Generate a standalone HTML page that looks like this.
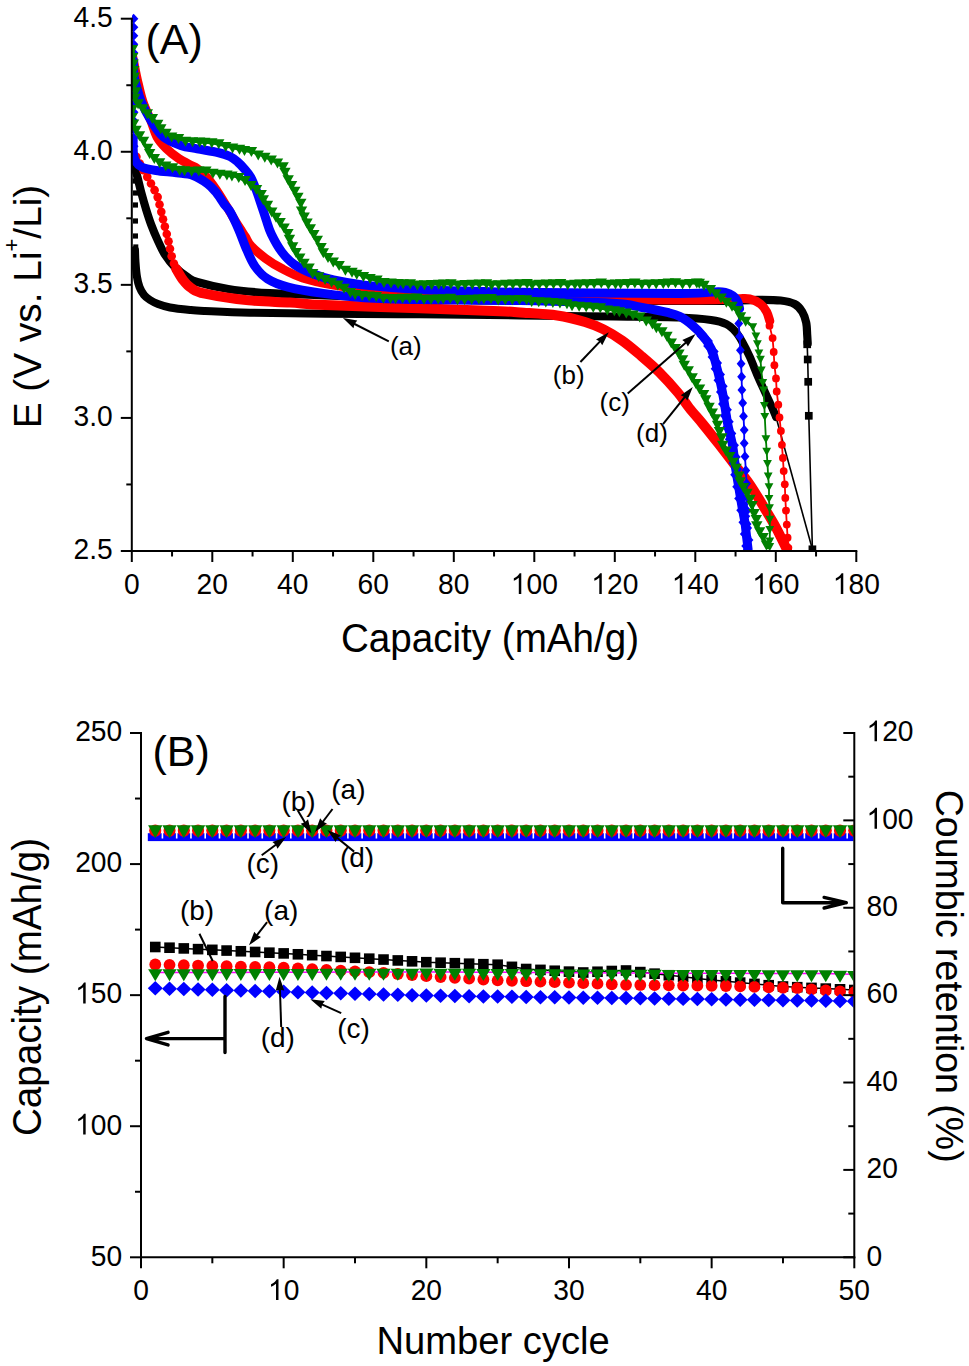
<!DOCTYPE html>
<html><head><meta charset="utf-8"><style>
html,body{margin:0;padding:0;background:#fff;}
svg{display:block;font-family:"Liberation Sans", sans-serif;}
</style></head><body>
<svg width="969" height="1366" viewBox="0 0 969 1366">
<rect width="969" height="1366" fill="#fff"/>
<defs><clipPath id="ctop"><rect x="132" y="0" width="740" height="550.5"/></clipPath><clipPath id="cbot"><rect x="142" y="700" width="711.5" height="556.5"/></clipPath></defs>
<g clip-path="url(#ctop)">
<path d="M133.50,163.00 C134.17,165.40 136.22,172.52 137.50,177.40 C138.78,182.28 139.75,186.92 141.20,192.30 C142.65,197.68 144.53,204.30 146.20,209.70 C147.87,215.10 149.33,219.72 151.20,224.70 C153.07,229.68 155.12,234.62 157.40,239.60 C159.68,244.58 162.00,250.03 164.90,254.60 C167.80,259.17 171.07,263.27 174.80,267.00 C178.53,270.73 183.57,274.50 187.30,277.00 C191.03,279.50 190.38,280.00 197.20,282.00 C204.02,284.00 216.15,287.13 228.20,289.00 C240.25,290.87 253.37,292.15 269.50,293.20 C285.63,294.25 299.92,294.33 325.00,295.30 C350.08,296.27 390.83,298.13 420.00,299.00 C449.17,299.87 456.67,300.17 500.00,300.50 C543.33,300.83 639.68,301.02 680.00,301.00 C720.32,300.98 729.00,300.60 741.90,300.40 C754.80,300.20 750.95,299.78 757.40,299.80 C763.85,299.82 774.40,299.80 780.60,300.50 C786.80,301.20 790.98,302.12 794.60,304.00 C798.22,305.88 800.37,308.70 802.30,311.80 C804.23,314.90 805.38,318.73 806.20,322.60 C807.02,326.47 806.95,331.52 807.20,335.00 C807.45,338.48 807.62,342.08 807.70,343.50" fill="none" stroke="#000" stroke-width="8.2" stroke-linejoin="round" stroke-linecap="round"/>
<path d="M135.00,250.00 C135.08,252.00 135.17,257.50 135.50,262.00 C135.83,266.50 136.33,272.83 137.00,277.00 C137.67,281.17 138.33,284.00 139.50,287.00 C140.67,290.00 142.25,292.83 144.00,295.00 C145.75,297.17 147.67,298.50 150.00,300.00 C152.33,301.50 154.67,302.75 158.00,304.00 C161.33,305.25 164.67,306.50 170.00,307.50 C175.33,308.50 184.17,309.42 190.00,310.00 C195.83,310.58 195.00,310.53 205.00,311.00 C215.00,311.47 230.00,312.35 250.00,312.80 C270.00,313.25 296.67,313.45 325.00,313.70 C353.33,313.95 387.50,314.00 420.00,314.30 C452.50,314.60 487.85,315.13 520.00,315.50 C552.15,315.87 586.23,316.17 612.90,316.50 C639.57,316.83 663.65,316.92 680.00,317.50 C696.35,318.08 703.27,318.88 711.00,320.00 C718.73,321.12 722.28,322.22 726.40,324.20 C730.52,326.18 733.12,329.07 735.70,331.90 C738.28,334.73 739.57,337.07 741.90,341.20 C744.23,345.33 747.12,351.02 749.70,356.70 C752.28,362.38 754.83,369.37 757.40,375.30 C759.97,381.23 762.52,386.63 765.10,392.30 C767.68,397.97 771.08,405.18 772.90,409.30 C774.72,413.42 775.48,415.72 776.00,417.00" fill="none" stroke="#000" stroke-width="8.0" stroke-linejoin="round" stroke-linecap="round"/>
<polyline points="807.70,343.50 807.20,344.30 807.70,359.50 808.20,381.80 808.80,415.80 812.40,549.30" fill="none" stroke="#000" stroke-width="1.6"/>
<rect x="803.35" y="340.45" width="7.70" height="7.70" fill="#000"/>
<rect x="803.85" y="355.65" width="7.70" height="7.70" fill="#000"/>
<rect x="804.35" y="377.95" width="7.70" height="7.70" fill="#000"/>
<rect x="804.95" y="411.95" width="7.70" height="7.70" fill="#000"/>
<rect x="808.55" y="545.45" width="7.70" height="7.70" fill="#000"/>
<rect x="132.50" y="178.40" width="5" height="5.2" fill="#000"/>
<rect x="133.00" y="190.40" width="5" height="5.2" fill="#000"/>
<rect x="133.00" y="202.40" width="5" height="5.2" fill="#000"/>
<rect x="133.00" y="218.40" width="5" height="5.2" fill="#000"/>
<rect x="133.00" y="233.40" width="5" height="5.2" fill="#000"/>
<rect x="133.30" y="244.40" width="5" height="5.2" fill="#000"/>
<line x1="776.00" y1="417.00" x2="812.40" y2="549.30" stroke="#000" stroke-width="1.6" />
<polyline points="133.00,150.00 135.30,154.50 141.50,166.90 149.80,181.30 156.80,194.80 159.90,206.00 163.60,221.60 168.00,239.00 171.70,256.40 176.20,268.90 182.80,279.60" fill="none" stroke="#ff0000" stroke-width="1.6"/>
<circle cx="133.00" cy="150.00" r="4.30" fill="#ff0000"/>
<circle cx="136.42" cy="156.79" r="4.30" fill="#ff0000"/>
<circle cx="139.78" cy="163.60" r="4.30" fill="#ff0000"/>
<circle cx="143.40" cy="170.28" r="4.30" fill="#ff0000"/>
<circle cx="147.25" cy="176.84" r="4.30" fill="#ff0000"/>
<circle cx="150.99" cy="183.45" r="4.30" fill="#ff0000"/>
<circle cx="154.61" cy="190.13" r="4.30" fill="#ff0000"/>
<circle cx="157.65" cy="197.09" r="4.30" fill="#ff0000"/>
<circle cx="159.52" cy="204.45" r="4.30" fill="#ff0000"/>
<circle cx="161.30" cy="211.84" r="4.30" fill="#ff0000"/>
<circle cx="163.03" cy="219.24" r="4.30" fill="#ff0000"/>
<circle cx="164.87" cy="226.62" r="4.30" fill="#ff0000"/>
<circle cx="166.77" cy="233.98" r="4.30" fill="#ff0000"/>
<circle cx="168.52" cy="241.37" r="4.30" fill="#ff0000"/>
<circle cx="170.00" cy="248.82" r="4.30" fill="#ff0000"/>
<circle cx="171.66" cy="256.24" r="4.30" fill="#ff0000"/>
<circle cx="173.92" cy="263.49" r="4.30" fill="#ff0000"/>
<circle cx="177.00" cy="270.44" r="4.30" fill="#ff0000"/>
<circle cx="181.01" cy="276.89" r="4.30" fill="#ff0000"/>
<path d="M176.20,268.90 C177.30,270.68 180.33,276.43 182.80,279.60 C185.27,282.77 187.30,285.55 191.00,287.90 C194.70,290.25 195.37,291.62 205.00,293.70 C214.63,295.78 234.62,298.93 248.80,300.40 C262.98,301.87 277.40,301.73 290.10,302.50 C302.80,303.27 303.35,304.05 325.00,305.00 C346.65,305.95 390.83,307.17 420.00,308.20 C449.17,309.23 483.33,310.48 500.00,311.20 C516.67,311.92 510.47,311.78 520.00,312.50 C529.53,313.22 546.37,313.92 557.20,315.50 C568.03,317.08 577.27,319.68 585.00,322.00 C592.73,324.32 597.40,326.30 603.60,329.40 C609.80,332.50 616.02,336.25 622.20,340.60 C628.38,344.95 634.52,350.23 640.70,355.50 C646.88,360.77 653.10,366.02 659.30,372.20 C665.50,378.38 672.90,386.63 677.90,392.60 C682.90,398.57 685.08,402.68 689.30,408.00 C693.52,413.32 698.30,418.50 703.20,424.50 C708.10,430.50 713.53,437.38 718.70,444.00 C723.87,450.62 729.03,457.48 734.20,464.20 C739.37,470.92 744.55,476.82 749.70,484.30 C754.85,491.78 760.72,501.88 765.10,509.10 C769.48,516.32 772.38,520.90 776.00,527.60 C779.62,534.30 785.00,545.68 786.80,549.30" fill="none" stroke="#ff0000" stroke-width="10" stroke-linejoin="round" stroke-linecap="round"/>
<path d="M132.50,56.00 C132.83,57.67 133.68,62.00 134.50,66.00 C135.32,70.00 135.98,74.00 137.40,80.00 C138.82,86.00 140.73,95.17 143.00,102.00 C145.27,108.83 148.67,115.17 151.00,121.00 C153.33,126.83 154.45,132.42 157.00,137.00 C159.55,141.58 162.68,144.92 166.30,148.50 C169.92,152.08 174.53,155.68 178.70,158.50 C182.87,161.32 188.35,163.82 191.30,165.40 C194.25,166.98 194.45,166.65 196.40,168.00 C198.35,169.35 200.73,171.33 203.00,173.50 C205.27,175.67 207.67,178.08 210.00,181.00 C212.33,183.92 214.67,187.50 217.00,191.00 C219.33,194.50 221.83,198.50 224.00,202.00 C226.17,205.50 228.17,208.92 230.00,212.00 C231.83,215.08 233.33,217.75 235.00,220.50 C236.67,223.25 238.25,225.75 240.00,228.50 C241.75,231.25 243.67,234.10 245.50,237.00 C247.33,239.90 247.68,242.35 251.00,245.90 C254.32,249.45 260.25,254.52 265.40,258.30 C270.55,262.08 275.70,265.33 281.90,268.60 C288.10,271.87 294.00,275.15 302.60,277.90 C311.20,280.65 323.18,283.22 333.50,285.10 C343.82,286.98 350.08,288.08 364.50,289.20 C378.92,290.32 394.08,290.75 420.00,291.80 C445.92,292.85 490.95,294.25 520.00,295.50 C549.05,296.75 564.30,298.55 594.30,299.30 C624.30,300.05 676.17,300.08 700.00,300.00 C723.83,299.92 729.02,298.97 737.30,298.80 C745.58,298.63 745.83,298.13 749.70,299.00 C753.57,299.87 757.67,301.87 760.50,304.00 C763.33,306.13 765.15,308.95 766.70,311.80 C768.25,314.65 769.28,319.55 769.80,321.10" fill="none" stroke="#ff0000" stroke-width="9" stroke-linejoin="round" stroke-linecap="round"/>
<polyline points="769.80,321.10 769.50,325.70 772.60,338.10 773.70,352.00 774.40,365.20 776.00,378.40 776.70,391.50 778.30,404.70 779.50,417.50 780.90,430.90 781.90,444.80 782.90,458.00 783.70,471.10 784.80,484.30 785.30,497.90 786.00,510.60 786.80,524.60 787.60,537.70 788.40,547.80" fill="none" stroke="#ff0000" stroke-width="1.8"/>
<circle cx="769.50" cy="325.70" r="3.90" fill="#ff0000"/>
<circle cx="772.60" cy="338.10" r="3.90" fill="#ff0000"/>
<circle cx="773.70" cy="352.00" r="3.90" fill="#ff0000"/>
<circle cx="774.40" cy="365.20" r="3.90" fill="#ff0000"/>
<circle cx="776.00" cy="378.40" r="3.90" fill="#ff0000"/>
<circle cx="776.70" cy="391.50" r="3.90" fill="#ff0000"/>
<circle cx="778.30" cy="404.70" r="3.90" fill="#ff0000"/>
<circle cx="779.50" cy="417.50" r="3.90" fill="#ff0000"/>
<circle cx="780.90" cy="430.90" r="3.90" fill="#ff0000"/>
<circle cx="781.90" cy="444.80" r="3.90" fill="#ff0000"/>
<circle cx="782.90" cy="458.00" r="3.90" fill="#ff0000"/>
<circle cx="783.70" cy="471.10" r="3.90" fill="#ff0000"/>
<circle cx="784.80" cy="484.30" r="3.90" fill="#ff0000"/>
<circle cx="785.30" cy="497.90" r="3.90" fill="#ff0000"/>
<circle cx="786.00" cy="510.60" r="3.90" fill="#ff0000"/>
<circle cx="786.80" cy="524.60" r="3.90" fill="#ff0000"/>
<circle cx="787.60" cy="537.70" r="3.90" fill="#ff0000"/>
<circle cx="788.40" cy="547.80" r="3.90" fill="#ff0000"/>
<path d="M133.20,140.00 C133.22,142.07 132.95,148.95 133.30,152.40 C133.65,155.85 133.93,158.27 135.30,160.70 C136.67,163.13 138.05,165.37 141.50,167.00 C144.95,168.63 150.15,169.53 156.00,170.50 C161.85,171.47 170.42,171.97 176.60,172.80 C182.78,173.63 187.93,173.67 193.10,175.50 C198.27,177.33 203.82,181.05 207.60,183.80 C211.38,186.55 213.05,188.63 215.80,192.00 C218.55,195.37 221.68,200.67 224.10,204.00 C226.52,207.33 227.88,207.77 230.30,212.00 C232.72,216.23 235.85,223.07 238.60,229.40 C241.35,235.73 244.05,243.82 246.80,250.00 C249.55,256.18 251.65,261.68 255.10,266.50 C258.55,271.32 262.00,275.45 267.50,278.90 C273.00,282.35 278.82,284.78 288.10,287.20 C297.38,289.62 310.47,291.63 323.20,293.40 C335.93,295.17 348.37,296.77 364.50,297.80 C380.63,298.83 394.08,299.13 420.00,299.60 C445.92,300.07 487.85,299.98 520.00,300.60 C552.15,301.22 592.78,302.20 612.90,303.30 C633.02,304.40 631.42,305.63 640.70,307.20 C649.98,308.77 662.05,311.15 668.60,312.70 C675.15,314.25 676.10,314.45 680.00,316.50 C683.90,318.55 688.17,321.75 692.00,325.00 C695.83,328.25 699.83,332.08 703.00,336.00 C706.17,339.92 708.90,344.02 711.00,348.50 C713.10,352.98 714.07,357.40 715.60,362.90 C717.13,368.40 718.92,375.83 720.20,381.50 C721.48,387.17 722.27,391.15 723.30,396.90 C724.33,402.65 725.62,411.23 726.40,416.00 C727.18,420.77 726.97,420.57 728.00,425.50 C729.03,430.43 731.32,438.38 732.60,445.60 C733.88,452.82 734.67,461.83 735.70,468.80 C736.73,475.77 737.77,481.20 738.80,487.40 C739.83,493.60 740.87,500.07 741.90,506.00 C742.93,511.93 744.22,517.85 745.00,523.00 C745.78,528.15 746.08,532.52 746.60,536.90 C747.12,541.28 747.85,547.23 748.10,549.30" fill="none" stroke="#0000ff" stroke-width="9" stroke-linejoin="round" stroke-linecap="round"/>
<path d="M701.80,330.25L707.05,336.00L701.80,341.75L696.55,336.00Z" fill="#0000ff"/>
<path d="M707.62,335.18L712.87,340.93L707.62,346.68L702.37,340.93Z" fill="#0000ff"/>
<path d="M708.46,340.23L713.71,345.98L708.46,351.73L703.21,345.98Z" fill="#0000ff"/>
<path d="M713.41,345.65L718.66,351.40L713.41,357.15L708.16,351.40Z" fill="#0000ff"/>
<path d="M712.83,351.37L718.08,357.12L712.83,362.87L707.58,357.12Z" fill="#0000ff"/>
<path d="M716.80,357.16L722.05,362.91L716.80,368.66L711.55,362.91Z" fill="#0000ff"/>
<path d="M715.94,362.96L721.19,368.71L715.94,374.46L710.69,368.71Z" fill="#0000ff"/>
<path d="M719.77,368.78L725.02,374.53L719.77,380.28L714.52,374.53Z" fill="#0000ff"/>
<path d="M718.74,374.62L723.99,380.37L718.74,386.12L713.49,380.37Z" fill="#0000ff"/>
<path d="M722.44,380.48L727.69,386.23L722.44,391.98L717.19,386.23Z" fill="#0000ff"/>
<path d="M721.22,386.36L726.47,392.11L721.22,397.86L715.97,392.11Z" fill="#0000ff"/>
<path d="M724.70,392.27L729.95,398.02L724.70,403.77L719.45,398.02Z" fill="#0000ff"/>
<path d="M723.28,398.18L728.53,403.93L723.28,409.68L718.03,403.93Z" fill="#0000ff"/>
<path d="M726.62,404.11L731.87,409.86L726.62,415.61L721.37,409.86Z" fill="#0000ff"/>
<path d="M725.17,410.04L730.42,415.79L725.17,421.54L719.92,415.79Z" fill="#0000ff"/>
<path d="M728.47,415.97L733.72,421.72L728.47,427.47L723.22,421.72Z" fill="#0000ff"/>
<path d="M727.27,421.84L732.52,427.59L727.27,433.34L722.02,427.59Z" fill="#0000ff"/>
<path d="M731.09,427.67L736.34,433.42L731.09,439.17L725.84,433.42Z" fill="#0000ff"/>
<path d="M730.09,433.51L735.34,439.26L730.09,445.01L724.84,439.26Z" fill="#0000ff"/>
<path d="M733.71,439.38L738.96,445.13L733.71,450.88L728.46,445.13Z" fill="#0000ff"/>
<path d="M732.25,445.31L737.50,451.06L732.25,456.81L727.00,451.06Z" fill="#0000ff"/>
<path d="M735.41,451.26L740.66,457.01L735.41,462.76L730.16,457.01Z" fill="#0000ff"/>
<path d="M733.73,457.22L738.98,462.97L733.73,468.72L728.48,462.97Z" fill="#0000ff"/>
<path d="M736.92,463.16L742.17,468.91L736.92,474.66L731.67,468.91Z" fill="#0000ff"/>
<path d="M735.45,469.09L740.70,474.84L735.45,480.59L730.20,474.84Z" fill="#0000ff"/>
<path d="M738.86,475.01L744.11,480.76L738.86,486.51L733.61,480.76Z" fill="#0000ff"/>
<path d="M737.48,480.92L742.73,486.67L737.48,492.42L732.23,486.67Z" fill="#0000ff"/>
<path d="M740.86,486.84L746.11,492.59L740.86,498.34L735.61,492.59Z" fill="#0000ff"/>
<path d="M739.43,492.76L744.68,498.51L739.43,504.26L734.18,498.51Z" fill="#0000ff"/>
<path d="M742.83,498.67L748.08,504.42L742.83,510.17L737.58,504.42Z" fill="#0000ff"/>
<path d="M741.49,504.58L746.74,510.33L741.49,516.08L736.24,510.33Z" fill="#0000ff"/>
<path d="M745.02,510.47L750.27,516.22L745.02,521.97L739.77,516.22Z" fill="#0000ff"/>
<path d="M743.66,516.38L748.91,522.13L743.66,527.88L738.41,522.13Z" fill="#0000ff"/>
<path d="M746.87,522.33L752.12,528.08L746.87,533.83L741.62,528.08Z" fill="#0000ff"/>
<path d="M745.09,528.29L750.34,534.04L745.09,539.79L739.84,534.04Z" fill="#0000ff"/>
<path d="M748.17,534.26L753.42,540.01L748.17,545.76L742.92,540.01Z" fill="#0000ff"/>
<path d="M746.49,540.21L751.74,545.96L746.49,551.71L741.24,545.96Z" fill="#0000ff"/>
<path d="M133.60,13.70L138.35,18.70L133.60,23.70L128.85,18.70Z" fill="#0000ff"/>
<path d="M133.60,22.20L138.35,27.20L133.60,32.20L128.85,27.20Z" fill="#0000ff"/>
<path d="M133.59,30.70L138.34,35.70L133.59,40.70L128.84,35.70Z" fill="#0000ff"/>
<path d="M133.59,39.20L138.34,44.20L133.59,49.20L128.84,44.20Z" fill="#0000ff"/>
<path d="M133.59,47.70L138.34,52.70L133.59,57.70L128.84,52.70Z" fill="#0000ff"/>
<path d="M133.60,56.20L138.35,61.20L133.60,66.20L128.85,61.20Z" fill="#0000ff"/>
<path d="M133.62,64.70L138.37,69.70L133.62,74.70L128.87,69.70Z" fill="#0000ff"/>
<path d="M133.64,73.20L138.39,78.20L133.64,83.20L128.89,78.20Z" fill="#0000ff"/>
<path d="M133.66,81.70L138.41,86.70L133.66,91.70L128.91,86.70Z" fill="#0000ff"/>
<path d="M133.69,90.20L138.44,95.20L133.69,100.20L128.94,95.20Z" fill="#0000ff"/>
<path d="M133.71,98.70L138.46,103.70L133.71,108.70L128.96,103.70Z" fill="#0000ff"/>
<path d="M133.73,107.20L138.48,112.20L133.73,117.20L128.98,112.20Z" fill="#0000ff"/>
<path d="M133.75,115.70L138.50,120.70L133.75,125.70L129.00,120.70Z" fill="#0000ff"/>
<path d="M133.77,124.20L138.52,129.20L133.77,134.20L129.02,129.20Z" fill="#0000ff"/>
<path d="M133.79,132.70L138.54,137.70L133.79,142.70L129.04,137.70Z" fill="#0000ff"/>
<path d="M133.83,141.20L138.58,146.20L133.83,151.20L129.08,146.20Z" fill="#0000ff"/>
<path d="M133.30,60.00 C133.42,62.50 133.38,70.33 134.00,75.00 C134.62,79.67 135.80,83.58 137.00,88.00 C138.20,92.42 139.03,96.33 141.20,101.50 C143.37,106.67 146.37,113.15 150.00,119.00 C153.63,124.85 157.88,132.20 163.00,136.60 C168.12,141.00 175.00,143.37 180.70,145.40 C186.40,147.43 191.00,147.62 197.20,148.80 C203.40,149.98 212.43,151.22 217.90,152.50 C223.37,153.78 226.70,154.92 230.00,156.50 C233.30,158.08 235.37,160.00 237.70,162.00 C240.03,164.00 241.85,166.00 244.00,168.50 C246.15,171.00 248.63,173.58 250.60,177.00 C252.57,180.42 254.07,184.50 255.80,189.00 C257.53,193.50 259.28,198.92 261.00,204.00 C262.72,209.08 264.38,214.50 266.10,219.50 C267.82,224.50 268.67,228.57 271.30,234.00 C273.93,239.43 278.07,247.02 281.90,252.10 C285.73,257.18 289.13,260.88 294.30,264.50 C299.47,268.12 306.37,271.22 312.90,273.80 C319.43,276.38 324.90,278.12 333.50,280.00 C342.10,281.88 350.08,283.52 364.50,285.10 C378.92,286.68 394.08,288.30 420.00,289.50 C445.92,290.70 476.67,291.63 520.00,292.30 C563.33,292.97 646.88,293.60 680.00,293.50 C713.12,293.40 710.18,291.48 718.70,291.70 C727.22,291.92 728.00,293.25 731.10,294.80 C734.20,296.35 735.88,298.68 737.30,301.00 C738.72,303.32 739.22,307.42 739.60,308.70" fill="none" stroke="#0000ff" stroke-width="9" stroke-linejoin="round" stroke-linecap="round"/>
<polyline points="739.60,308.70 738.80,323.40 739.60,336.60 740.40,350.20 741.10,363.70 741.60,376.80 741.90,390.00 742.70,403.10 743.50,416.30 744.20,430.10 744.20,443.30 745.00,456.40 745.80,470.40 746.60,483.50 746.80,497.00 747.00,510.50 747.10,524.00 747.20,537.00 747.30,549.30" fill="none" stroke="#0000ff" stroke-width="1.8"/>
<path d="M738.80,318.15L743.20,323.40L738.80,328.65L734.40,323.40Z" fill="#0000ff"/>
<path d="M739.60,331.35L744.00,336.60L739.60,341.85L735.20,336.60Z" fill="#0000ff"/>
<path d="M740.40,344.95L744.80,350.20L740.40,355.45L736.00,350.20Z" fill="#0000ff"/>
<path d="M741.10,358.45L745.50,363.70L741.10,368.95L736.70,363.70Z" fill="#0000ff"/>
<path d="M741.60,371.55L746.00,376.80L741.60,382.05L737.20,376.80Z" fill="#0000ff"/>
<path d="M741.90,384.75L746.30,390.00L741.90,395.25L737.50,390.00Z" fill="#0000ff"/>
<path d="M742.70,397.85L747.10,403.10L742.70,408.35L738.30,403.10Z" fill="#0000ff"/>
<path d="M743.50,411.05L747.90,416.30L743.50,421.55L739.10,416.30Z" fill="#0000ff"/>
<path d="M744.20,424.85L748.60,430.10L744.20,435.35L739.80,430.10Z" fill="#0000ff"/>
<path d="M744.20,438.05L748.60,443.30L744.20,448.55L739.80,443.30Z" fill="#0000ff"/>
<path d="M745.00,451.15L749.40,456.40L745.00,461.65L740.60,456.40Z" fill="#0000ff"/>
<path d="M745.80,465.15L750.20,470.40L745.80,475.65L741.40,470.40Z" fill="#0000ff"/>
<path d="M746.60,478.25L751.00,483.50L746.60,488.75L742.20,483.50Z" fill="#0000ff"/>
<path d="M746.80,491.75L751.20,497.00L746.80,502.25L742.40,497.00Z" fill="#0000ff"/>
<path d="M747.00,505.25L751.40,510.50L747.00,515.75L742.60,510.50Z" fill="#0000ff"/>
<path d="M747.10,518.75L751.50,524.00L747.10,529.25L742.70,524.00Z" fill="#0000ff"/>
<path d="M747.20,531.75L751.60,537.00L747.20,542.25L742.80,537.00Z" fill="#0000ff"/>
<path d="M747.30,544.05L751.70,549.30L747.30,554.55L742.90,549.30Z" fill="#0000ff"/>
<path d="M133.30,50.00 C133.33,52.00 133.30,56.00 133.50,62.00 C133.70,68.00 134.08,79.83 134.50,86.00 C134.92,92.17 134.88,95.58 136.00,99.00 C137.12,102.42 139.03,103.67 141.20,106.50 C143.37,109.33 146.53,113.33 149.00,116.00 C151.47,118.67 153.07,119.67 156.00,122.50 C158.93,125.33 163.93,130.58 166.60,133.00 C169.27,135.42 168.62,135.75 172.00,137.00 C175.38,138.25 180.90,139.58 186.90,140.50 C192.90,141.42 202.83,141.92 208.00,142.50 C213.17,143.08 212.82,142.92 217.90,144.00 C222.98,145.08 232.32,147.53 238.50,149.00 C244.68,150.47 249.83,151.17 255.00,152.80 C260.17,154.43 265.02,156.50 269.50,158.80 C273.98,161.10 278.80,163.43 281.90,166.60 C285.00,169.77 286.03,173.87 288.10,177.80 C290.17,181.73 292.23,185.73 294.30,190.20 C296.37,194.67 298.43,199.45 300.50,204.60 C302.57,209.75 304.63,216.28 306.70,221.10 C308.77,225.92 310.50,229.02 312.90,233.50 C315.30,237.98 318.00,243.53 321.10,248.00 C324.20,252.47 327.72,256.87 331.50,260.30 C335.28,263.73 339.00,266.18 343.80,268.60 C348.60,271.02 355.13,272.90 360.30,274.80 C365.47,276.70 368.95,278.63 374.80,280.00 C380.65,281.37 387.87,282.32 395.40,283.00 C402.93,283.68 399.23,283.95 420.00,284.10 C440.77,284.25 476.67,284.05 520.00,283.90 C563.33,283.75 650.75,283.42 680.00,283.20 C709.25,282.98 690.33,281.70 695.50,282.60 C700.67,283.50 707.13,286.45 711.00,288.60 C714.87,290.75 716.13,293.18 718.70,295.50 C721.27,297.82 723.82,300.30 726.40,302.50 C728.98,304.70 731.62,306.38 734.20,308.70 C736.78,311.02 739.32,313.82 741.90,316.40 C744.48,318.98 748.40,322.90 749.70,324.20" fill="none" stroke="#008000" stroke-width="3" stroke-linejoin="round" stroke-linecap="round"/>
<path d="M126.60,45.00L138.00,45.00L132.30,55.00Z" fill="#008000"/>
<path d="M126.98,53.11L138.38,53.11L132.68,63.11Z" fill="#008000"/>
<path d="M127.47,59.62L138.87,59.62L133.17,69.62Z" fill="#008000"/>
<path d="M128.01,66.12L139.41,66.12L133.71,76.12Z" fill="#008000"/>
<path d="M128.58,72.62L139.98,72.62L134.28,82.62Z" fill="#008000"/>
<path d="M129.21,79.13L140.61,79.13L134.91,89.13Z" fill="#008000"/>
<path d="M129.94,87.22L141.34,87.22L135.64,97.22Z" fill="#008000"/>
<path d="M129.04,93.68L140.44,93.68L134.74,103.68Z" fill="#008000"/>
<path d="M132.41,99.37L143.81,99.37L138.11,109.37Z" fill="#008000"/>
<path d="M137.02,104.34L148.42,104.34L142.72,114.34Z" fill="#008000"/>
<path d="M141.63,109.32L153.03,109.32L147.33,119.32Z" fill="#008000"/>
<path d="M146.67,113.89L158.07,113.89L152.37,123.89Z" fill="#008000"/>
<path d="M152.00,119.79L163.40,119.79L157.70,129.79Z" fill="#008000"/>
<path d="M155.10,124.32L166.50,124.32L160.80,134.32Z" fill="#008000"/>
<path d="M160.27,128.78L171.67,128.78L165.97,138.78Z" fill="#008000"/>
<path d="M165.97,132.46L177.37,132.46L171.67,142.46Z" fill="#008000"/>
<path d="M172.81,134.05L184.21,134.05L178.51,144.05Z" fill="#008000"/>
<path d="M179.79,136.69L191.19,136.69L185.49,146.69Z" fill="#008000"/>
<path d="M186.84,137.28L198.24,137.28L192.54,147.28Z" fill="#008000"/>
<path d="M193.92,137.58L205.32,137.58L199.62,147.58Z" fill="#008000"/>
<path d="M199.00,137.84L210.40,137.84L204.70,147.84Z" fill="#008000"/>
<path d="M206.07,138.27L217.47,138.27L211.77,148.27Z" fill="#008000"/>
<path d="M213.06,139.24L224.46,139.24L218.76,149.24Z" fill="#008000"/>
<path d="M219.98,142.12L231.38,142.12L225.68,152.12Z" fill="#008000"/>
<path d="M226.89,143.48L238.29,143.48L232.59,153.48Z" fill="#008000"/>
<path d="M233.80,144.80L245.20,144.80L239.50,154.80Z" fill="#008000"/>
<path d="M238.76,145.93L250.16,145.93L244.46,155.93Z" fill="#008000"/>
<path d="M245.70,147.12L257.10,147.12L251.40,157.12Z" fill="#008000"/>
<path d="M252.49,150.47L263.89,150.47L258.19,160.47Z" fill="#008000"/>
<path d="M259.10,152.74L270.50,152.74L264.80,162.74Z" fill="#008000"/>
<path d="M265.52,155.43L276.92,155.43L271.22,165.43Z" fill="#008000"/>
<path d="M271.79,158.40L283.19,158.40L277.49,168.40Z" fill="#008000"/>
<path d="M277.42,162.30L288.82,162.30L283.12,172.30Z" fill="#008000"/>
<path d="M279.25,167.80L290.65,167.80L284.95,177.80Z" fill="#008000"/>
<path d="M282.46,175.25L293.86,175.25L288.16,185.25Z" fill="#008000"/>
<path d="M285.87,181.01L297.27,181.01L291.57,191.01Z" fill="#008000"/>
<path d="M289.10,186.86L300.50,186.86L294.80,196.86Z" fill="#008000"/>
<path d="M292.17,192.78L303.57,192.78L297.87,202.78Z" fill="#008000"/>
<path d="M295.10,198.77L306.50,198.77L300.80,208.77Z" fill="#008000"/>
<path d="M295.82,206.43L307.22,206.43L301.52,216.43Z" fill="#008000"/>
<path d="M298.44,212.53L309.84,212.53L304.14,222.53Z" fill="#008000"/>
<path d="M301.31,218.54L312.71,218.54L307.01,228.54Z" fill="#008000"/>
<path d="M304.60,224.36L316.00,224.36L310.30,234.36Z" fill="#008000"/>
<path d="M308.11,230.07L319.51,230.07L313.81,240.07Z" fill="#008000"/>
<path d="M311.59,235.79L322.99,235.79L317.29,245.79Z" fill="#008000"/>
<path d="M315.34,242.96L326.74,242.96L321.04,252.96Z" fill="#008000"/>
<path d="M317.61,248.20L329.01,248.20L323.31,258.20Z" fill="#008000"/>
<path d="M322.30,253.10L333.70,253.10L328.00,263.10Z" fill="#008000"/>
<path d="M327.56,257.46L338.96,257.46L333.26,267.46Z" fill="#008000"/>
<path d="M333.41,261.11L344.81,261.11L339.11,271.11Z" fill="#008000"/>
<path d="M339.70,265.64L351.10,265.64L345.40,275.64Z" fill="#008000"/>
<path d="M346.33,267.85L357.73,267.85L352.03,277.85Z" fill="#008000"/>
<path d="M351.07,269.77L362.47,269.77L356.77,279.77Z" fill="#008000"/>
<path d="M357.73,271.89L369.13,271.89L363.43,281.89Z" fill="#008000"/>
<path d="M364.38,274.06L375.78,274.06L370.08,284.06Z" fill="#008000"/>
<path d="M371.26,275.49L382.66,275.49L376.96,285.49Z" fill="#008000"/>
<path d="M378.27,277.96L389.67,277.96L383.97,287.96Z" fill="#008000"/>
<path d="M385.32,278.52L396.72,278.52L391.02,288.52Z" fill="#008000"/>
<path d="M392.39,278.91L403.79,278.91L398.09,288.91Z" fill="#008000"/>
<path d="M397.47,279.26L408.87,279.26L403.17,289.26Z" fill="#008000"/>
<path d="M404.57,279.15L415.97,279.15L410.27,289.15Z" fill="#008000"/>
<path d="M411.68,280.53L423.08,280.53L417.38,290.53Z" fill="#008000"/>
<path d="M418.79,280.29L430.19,280.29L424.49,290.29Z" fill="#008000"/>
<path d="M425.90,280.02L437.30,280.02L431.60,290.02Z" fill="#008000"/>
<path d="M433.00,279.73L444.40,279.73L438.70,289.73Z" fill="#008000"/>
<path d="M438.11,279.44L449.51,279.44L443.81,289.44Z" fill="#008000"/>
<path d="M445.22,279.14L456.62,279.14L450.92,289.14Z" fill="#008000"/>
<path d="M452.33,280.43L463.73,280.43L458.03,290.43Z" fill="#008000"/>
<path d="M459.43,280.12L470.83,280.12L465.13,290.12Z" fill="#008000"/>
<path d="M466.54,279.81L477.94,279.81L472.24,289.81Z" fill="#008000"/>
<path d="M473.65,279.49L485.05,279.49L479.35,289.49Z" fill="#008000"/>
<path d="M480.76,279.17L492.16,279.17L486.46,289.17Z" fill="#008000"/>
<path d="M485.87,280.46L497.27,280.46L491.57,290.46Z" fill="#008000"/>
<path d="M492.97,280.14L504.37,280.14L498.67,290.14Z" fill="#008000"/>
<path d="M500.08,279.82L511.48,279.82L505.78,289.82Z" fill="#008000"/>
<path d="M507.19,279.51L518.59,279.51L512.89,289.51Z" fill="#008000"/>
<path d="M514.30,279.19L525.70,279.19L520.00,289.19Z" fill="#008000"/>
<path d="M521.40,278.88L532.80,278.88L527.10,288.88Z" fill="#008000"/>
<path d="M526.51,280.16L537.91,280.16L532.21,290.16Z" fill="#008000"/>
<path d="M533.62,279.85L545.02,279.85L539.32,289.85Z" fill="#008000"/>
<path d="M540.73,279.53L552.13,279.53L546.43,289.53Z" fill="#008000"/>
<path d="M547.83,279.21L559.23,279.21L553.53,289.21Z" fill="#008000"/>
<path d="M554.94,278.90L566.34,278.90L560.64,288.90Z" fill="#008000"/>
<path d="M562.05,280.18L573.45,280.18L567.75,290.18Z" fill="#008000"/>
<path d="M569.16,279.86L580.56,279.86L574.86,289.86Z" fill="#008000"/>
<path d="M574.26,279.55L585.66,279.55L579.96,289.55Z" fill="#008000"/>
<path d="M581.37,279.23L592.77,279.23L587.07,289.23Z" fill="#008000"/>
<path d="M588.48,278.91L599.88,278.91L594.18,288.91Z" fill="#008000"/>
<path d="M595.59,278.59L606.99,278.59L601.29,288.59Z" fill="#008000"/>
<path d="M602.70,279.87L614.10,279.87L608.40,289.87Z" fill="#008000"/>
<path d="M609.80,279.55L621.20,279.55L615.50,289.55Z" fill="#008000"/>
<path d="M614.91,279.23L626.31,279.23L620.61,289.23Z" fill="#008000"/>
<path d="M622.02,278.91L633.42,278.91L627.72,288.91Z" fill="#008000"/>
<path d="M629.13,278.59L640.53,278.59L634.83,288.59Z" fill="#008000"/>
<path d="M636.23,279.87L647.63,279.87L641.93,289.87Z" fill="#008000"/>
<path d="M643.34,279.54L654.74,279.54L649.04,289.54Z" fill="#008000"/>
<path d="M650.45,279.22L661.85,279.22L656.15,289.22Z" fill="#008000"/>
<path d="M657.56,278.89L668.96,278.89L663.26,288.89Z" fill="#008000"/>
<path d="M662.66,278.56L674.06,278.56L668.36,288.56Z" fill="#008000"/>
<path d="M669.77,278.23L681.17,278.23L675.47,288.23Z" fill="#008000"/>
<path d="M676.88,279.48L688.28,279.48L682.58,289.48Z" fill="#008000"/>
<path d="M683.99,279.07L695.39,279.07L689.69,289.07Z" fill="#008000"/>
<path d="M691.08,278.39L702.48,278.39L696.78,288.39Z" fill="#008000"/>
<path d="M693.55,278.76L704.95,278.76L699.25,288.76Z" fill="#008000"/>
<path d="M698.25,280.79L709.65,280.79L703.95,290.79Z" fill="#008000"/>
<path d="M704.66,285.09L716.06,285.09L710.36,295.09Z" fill="#008000"/>
<path d="M710.16,289.13L721.56,289.13L715.86,299.13Z" fill="#008000"/>
<path d="M715.33,293.59L726.73,293.59L721.03,303.59Z" fill="#008000"/>
<path d="M720.68,297.86L732.08,297.86L726.38,307.86Z" fill="#008000"/>
<path d="M726.34,301.76L737.74,301.76L732.04,311.76Z" fill="#008000"/>
<path d="M731.74,305.97L743.14,305.97L737.44,315.97Z" fill="#008000"/>
<path d="M734.79,312.15L746.19,312.15L740.49,322.15Z" fill="#008000"/>
<path d="M739.91,316.67L751.31,316.67L745.61,326.67Z" fill="#008000"/>
<path d="M133.30,110.00 C133.25,111.50 132.42,115.42 133.00,119.00 C133.58,122.58 134.70,127.10 136.80,131.50 C138.90,135.90 142.68,141.05 145.60,145.40 C148.52,149.75 150.85,154.08 154.30,157.60 C157.75,161.12 160.87,164.35 166.30,166.50 C171.73,168.65 180.02,169.67 186.90,170.50 C193.78,171.33 202.08,170.97 207.60,171.50 C213.12,172.03 215.18,172.82 220.00,173.70 C224.82,174.58 232.03,175.43 236.50,176.80 C240.97,178.17 243.35,179.67 246.80,181.90 C250.25,184.13 253.75,186.42 257.20,190.20 C260.65,193.98 264.07,199.78 267.50,204.60 C270.93,209.42 274.37,213.93 277.80,219.10 C281.23,224.27 285.00,230.10 288.10,235.60 C291.20,241.10 293.65,247.28 296.40,252.10 C299.15,256.92 301.17,260.72 304.60,264.50 C308.03,268.28 312.18,271.72 317.00,274.80 C321.82,277.88 327.30,279.90 333.50,283.00 C339.70,286.10 345.60,290.98 354.20,293.40 C362.80,295.82 374.13,296.65 385.10,297.50 C396.07,298.35 397.52,298.13 420.00,298.50 C442.48,298.87 494.05,298.57 520.00,299.70 C545.95,300.83 560.22,303.58 575.70,305.30 C591.18,307.02 603.60,308.47 612.90,310.00 C622.20,311.53 625.32,312.42 631.50,314.50 C637.68,316.58 644.43,319.25 650.00,322.50 C655.57,325.75 660.87,330.00 664.90,334.00 C668.93,338.00 671.10,341.68 674.20,346.50 C677.30,351.32 680.40,357.70 683.50,362.90 C686.60,368.10 690.05,373.15 692.80,377.70 C695.55,382.25 697.48,386.15 700.00,390.20 C702.52,394.25 706.07,398.82 707.90,402.00 C709.73,405.18 709.72,406.53 711.00,409.30 C712.28,412.07 714.07,414.10 715.60,418.60 C717.13,423.10 718.40,431.03 720.20,436.30 C722.00,441.57 724.33,446.07 726.40,450.20 C728.47,454.33 730.53,456.70 732.60,461.10 C734.67,465.50 736.73,471.97 738.80,476.60 C740.87,481.23 743.18,485.30 745.00,488.90 C746.82,492.50 748.15,493.80 749.70,498.20 C751.25,502.60 752.75,510.13 754.30,515.30 C755.85,520.47 757.45,525.33 759.00,529.20 C760.55,533.07 762.07,535.40 763.60,538.50 C765.13,541.60 767.43,546.25 768.20,547.80" fill="none" stroke="#008000" stroke-width="3" stroke-linejoin="round" stroke-linecap="round"/>
<path d="M126.60,105.00L138.00,105.00L132.30,115.00Z" fill="#008000"/>
<path d="M126.41,113.08L137.81,113.08L132.11,123.08Z" fill="#008000"/>
<path d="M127.85,119.49L139.25,119.49L133.55,129.49Z" fill="#008000"/>
<path d="M130.31,125.64L141.71,125.64L136.01,135.64Z" fill="#008000"/>
<path d="M133.79,131.35L145.19,131.35L139.49,141.35Z" fill="#008000"/>
<path d="M137.84,136.74L149.24,136.74L143.54,146.74Z" fill="#008000"/>
<path d="M141.95,143.69L153.35,143.69L147.65,153.69Z" fill="#008000"/>
<path d="M143.97,149.09L155.37,149.09L149.67,159.09Z" fill="#008000"/>
<path d="M148.61,154.03L160.01,154.03L154.31,164.03Z" fill="#008000"/>
<path d="M153.90,158.36L165.30,158.36L159.60,168.36Z" fill="#008000"/>
<path d="M160.04,161.52L171.44,161.52L165.74,171.52Z" fill="#008000"/>
<path d="M166.84,163.22L178.24,163.22L172.54,173.22Z" fill="#008000"/>
<path d="M173.84,165.75L185.24,165.75L179.54,175.75Z" fill="#008000"/>
<path d="M178.88,166.36L190.28,166.36L184.58,176.36Z" fill="#008000"/>
<path d="M185.96,166.66L197.36,166.66L191.66,176.66Z" fill="#008000"/>
<path d="M193.07,166.58L204.47,166.58L198.77,176.58Z" fill="#008000"/>
<path d="M200.17,166.52L211.57,166.52L205.87,176.52Z" fill="#008000"/>
<path d="M207.22,168.66L218.62,168.66L212.92,178.66Z" fill="#008000"/>
<path d="M214.19,169.74L225.59,169.74L219.89,179.74Z" fill="#008000"/>
<path d="M221.21,170.57L232.61,170.57L226.91,180.57Z" fill="#008000"/>
<path d="M226.21,171.45L237.61,171.45L231.91,181.45Z" fill="#008000"/>
<path d="M233.04,173.06L244.44,173.06L238.74,183.06Z" fill="#008000"/>
<path d="M239.35,175.93L250.75,175.93L245.05,185.93Z" fill="#008000"/>
<path d="M245.32,181.00L256.72,181.00L251.02,191.00Z" fill="#008000"/>
<path d="M250.82,185.10L262.22,185.10L256.52,195.10Z" fill="#008000"/>
<path d="M255.46,190.04L266.86,190.04L261.16,200.04Z" fill="#008000"/>
<path d="M257.61,195.36L269.01,195.36L263.31,205.36Z" fill="#008000"/>
<path d="M261.77,200.67L273.17,200.67L267.47,210.67Z" fill="#008000"/>
<path d="M266.07,207.48L277.47,207.48L271.77,217.48Z" fill="#008000"/>
<path d="M270.31,212.74L281.71,212.74L276.01,222.74Z" fill="#008000"/>
<path d="M274.39,218.10L285.79,218.10L280.09,228.10Z" fill="#008000"/>
<path d="M278.37,223.54L289.77,223.54L284.07,233.54Z" fill="#008000"/>
<path d="M282.20,229.06L293.60,229.06L287.90,239.06Z" fill="#008000"/>
<path d="M283.74,234.75L295.14,234.75L289.44,244.75Z" fill="#008000"/>
<path d="M286.99,242.19L298.39,242.19L292.69,252.19Z" fill="#008000"/>
<path d="M290.38,247.96L301.78,247.96L296.08,257.96Z" fill="#008000"/>
<path d="M294.09,253.56L305.49,253.56L299.79,263.56Z" fill="#008000"/>
<path d="M298.31,258.82L309.71,258.82L304.01,268.82Z" fill="#008000"/>
<path d="M303.36,263.40L314.76,263.40L309.06,273.40Z" fill="#008000"/>
<path d="M306.95,268.98L318.35,268.98L312.65,278.98Z" fill="#008000"/>
<path d="M312.97,272.37L324.37,272.37L318.67,282.37Z" fill="#008000"/>
<path d="M319.37,275.10L330.77,275.10L325.07,285.10Z" fill="#008000"/>
<path d="M325.85,277.67L337.25,277.67L331.55,287.67Z" fill="#008000"/>
<path d="M332.15,280.58L343.55,280.58L337.85,290.58Z" fill="#008000"/>
<path d="M338.31,283.75L349.71,283.75L344.01,293.75Z" fill="#008000"/>
<path d="M344.71,288.08L356.11,288.08L350.41,298.08Z" fill="#008000"/>
<path d="M349.47,289.89L360.87,289.89L355.17,299.89Z" fill="#008000"/>
<path d="M356.45,290.93L367.85,290.93L362.15,300.93Z" fill="#008000"/>
<path d="M363.49,291.55L374.89,291.55L369.19,301.55Z" fill="#008000"/>
<path d="M370.57,291.93L381.97,291.93L376.27,301.93Z" fill="#008000"/>
<path d="M377.65,293.79L389.05,293.79L383.35,303.79Z" fill="#008000"/>
<path d="M384.74,294.00L396.14,294.00L390.44,304.00Z" fill="#008000"/>
<path d="M389.84,294.01L401.24,294.01L395.54,304.01Z" fill="#008000"/>
<path d="M396.95,293.85L408.35,293.85L402.65,303.85Z" fill="#008000"/>
<path d="M404.05,293.65L415.45,293.65L409.75,303.65Z" fill="#008000"/>
<path d="M411.16,293.45L422.56,293.45L416.86,303.45Z" fill="#008000"/>
<path d="M418.27,294.86L429.67,294.86L423.97,304.86Z" fill="#008000"/>
<path d="M425.38,294.63L436.78,294.63L431.08,304.63Z" fill="#008000"/>
<path d="M432.48,294.39L443.88,294.39L438.18,304.39Z" fill="#008000"/>
<path d="M437.59,294.13L448.99,294.13L443.29,304.13Z" fill="#008000"/>
<path d="M444.70,293.87L456.10,293.87L450.40,303.87Z" fill="#008000"/>
<path d="M451.81,295.21L463.21,295.21L457.51,305.21Z" fill="#008000"/>
<path d="M458.91,294.95L470.31,294.95L464.61,304.95Z" fill="#008000"/>
<path d="M466.02,294.70L477.42,294.70L471.72,304.70Z" fill="#008000"/>
<path d="M473.13,294.46L484.53,294.46L478.83,304.46Z" fill="#008000"/>
<path d="M478.24,294.23L489.64,294.23L483.94,304.23Z" fill="#008000"/>
<path d="M485.34,294.02L496.74,294.02L491.04,304.02Z" fill="#008000"/>
<path d="M492.45,295.43L503.85,295.43L498.15,305.43Z" fill="#008000"/>
<path d="M499.56,295.27L510.96,295.27L505.26,305.27Z" fill="#008000"/>
<path d="M506.66,295.15L518.06,295.15L512.36,305.15Z" fill="#008000"/>
<path d="M513.77,295.10L525.17,295.10L519.47,305.10Z" fill="#008000"/>
<path d="M520.87,295.13L532.27,295.13L526.57,305.13Z" fill="#008000"/>
<path d="M525.96,296.88L537.36,296.88L531.66,306.88Z" fill="#008000"/>
<path d="M533.04,297.14L544.44,297.14L538.74,307.14Z" fill="#008000"/>
<path d="M540.12,297.51L551.52,297.51L545.82,307.51Z" fill="#008000"/>
<path d="M547.18,297.99L558.58,297.99L552.88,307.99Z" fill="#008000"/>
<path d="M554.24,298.55L565.64,298.55L559.94,308.55Z" fill="#008000"/>
<path d="M561.29,299.15L572.69,299.15L566.99,309.15Z" fill="#008000"/>
<path d="M566.34,301.30L577.74,301.30L572.04,311.30Z" fill="#008000"/>
<path d="M573.41,301.77L584.81,301.77L579.11,311.77Z" fill="#008000"/>
<path d="M580.47,302.25L591.87,302.25L586.17,312.25Z" fill="#008000"/>
<path d="M587.53,302.75L598.93,302.75L593.23,312.75Z" fill="#008000"/>
<path d="M594.59,303.30L605.99,303.30L600.29,313.30Z" fill="#008000"/>
<path d="M601.63,305.52L613.03,305.52L607.33,315.52Z" fill="#008000"/>
<path d="M608.66,306.27L620.06,306.27L614.36,316.27Z" fill="#008000"/>
<path d="M613.66,307.20L625.06,307.20L619.36,317.20Z" fill="#008000"/>
<path d="M620.56,308.57L631.96,308.57L626.26,318.57Z" fill="#008000"/>
<path d="M627.33,310.40L638.73,310.40L633.03,320.40Z" fill="#008000"/>
<path d="M634.00,312.50L645.40,312.50L639.70,322.50Z" fill="#008000"/>
<path d="M640.51,316.58L651.91,316.58L646.21,326.58Z" fill="#008000"/>
<path d="M646.76,319.59L658.16,319.59L652.46,329.59Z" fill="#008000"/>
<path d="M650.65,323.18L662.05,323.18L656.35,333.18Z" fill="#008000"/>
<path d="M656.19,327.24L667.59,327.24L661.89,337.24Z" fill="#008000"/>
<path d="M661.26,331.79L672.66,331.79L666.96,341.79Z" fill="#008000"/>
<path d="M665.60,338.57L677.00,338.57L671.30,348.57Z" fill="#008000"/>
<path d="M669.57,344.01L680.97,344.01L675.27,354.01Z" fill="#008000"/>
<path d="M673.25,349.62L684.65,349.62L678.95,359.62Z" fill="#008000"/>
<path d="M676.82,355.30L688.22,355.30L682.52,365.30Z" fill="#008000"/>
<path d="M678.58,360.86L689.98,360.86L684.28,370.86Z" fill="#008000"/>
<path d="M682.53,366.31L693.93,366.31L688.23,376.31Z" fill="#008000"/>
<path d="M686.48,373.37L697.88,373.37L692.18,383.37Z" fill="#008000"/>
<path d="M690.20,378.96L701.60,378.96L695.90,388.96Z" fill="#008000"/>
<path d="M693.86,384.58L705.26,384.58L699.56,394.58Z" fill="#008000"/>
<path d="M697.89,389.98L709.29,389.98L703.59,399.98Z" fill="#008000"/>
<path d="M700.05,395.29L711.45,395.29L705.75,405.29Z" fill="#008000"/>
<path d="M703.40,402.66L714.80,402.66L709.10,412.66Z" fill="#008000"/>
<path d="M706.58,408.51L717.98,408.51L712.28,418.51Z" fill="#008000"/>
<path d="M709.78,414.36L721.18,414.36L715.48,424.36Z" fill="#008000"/>
<path d="M711.85,420.63L723.25,420.63L717.55,430.63Z" fill="#008000"/>
<path d="M713.71,426.96L725.11,426.96L719.41,436.96Z" fill="#008000"/>
<path d="M716.02,433.17L727.42,433.17L721.72,443.17Z" fill="#008000"/>
<path d="M717.00,440.72L728.40,440.72L722.70,450.72Z" fill="#008000"/>
<path d="M720.32,446.53L731.72,446.53L726.02,456.53Z" fill="#008000"/>
<path d="M724.08,452.10L735.48,452.10L729.78,462.10Z" fill="#008000"/>
<path d="M727.55,457.82L738.95,457.82L733.25,467.82Z" fill="#008000"/>
<path d="M730.36,463.85L741.76,463.85L736.06,473.85Z" fill="#008000"/>
<path d="M733.13,471.50L744.53,471.50L738.83,481.50Z" fill="#008000"/>
<path d="M734.30,477.37L745.70,477.37L740.00,487.37Z" fill="#008000"/>
<path d="M737.75,483.11L749.15,483.11L743.45,493.11Z" fill="#008000"/>
<path d="M741.33,488.78L752.73,488.78L747.03,498.78Z" fill="#008000"/>
<path d="M744.33,494.72L755.73,494.72L750.03,504.72Z" fill="#008000"/>
<path d="M746.41,500.99L757.81,500.99L752.11,510.99Z" fill="#008000"/>
<path d="M748.38,508.89L759.78,508.89L754.08,518.89Z" fill="#008000"/>
<path d="M750.62,515.12L762.02,515.12L756.32,525.12Z" fill="#008000"/>
<path d="M751.08,521.28L762.48,521.28L756.78,531.28Z" fill="#008000"/>
<path d="M753.92,527.29L765.32,527.29L759.62,537.29Z" fill="#008000"/>
<path d="M757.36,533.04L768.76,533.04L763.06,543.04Z" fill="#008000"/>
<path d="M760.69,540.44L772.09,540.44L766.39,550.44Z" fill="#008000"/>
<polyline points="749.70,324.20 752.80,327.30 755.90,336.60 757.40,344.30 758.90,353.60 760.50,359.80 761.30,370.60 762.80,383.00 763.60,390.70 764.40,406.20 764.80,417.00 765.90,439.40 766.70,451.80 767.50,464.20 768.20,476.60 769.00,487.40 769.00,499.00 769.50,508.30 769.80,519.90 769.80,530.00 769.80,541.60 769.80,547.00" fill="none" stroke="#008000" stroke-width="1.8"/>
<path d="M748.40,323.20L757.20,323.20L752.80,331.40Z" fill="#008000"/>
<path d="M751.50,332.50L760.30,332.50L755.90,340.70Z" fill="#008000"/>
<path d="M753.00,340.20L761.80,340.20L757.40,348.40Z" fill="#008000"/>
<path d="M754.50,349.50L763.30,349.50L758.90,357.70Z" fill="#008000"/>
<path d="M756.10,355.70L764.90,355.70L760.50,363.90Z" fill="#008000"/>
<path d="M756.90,366.50L765.70,366.50L761.30,374.70Z" fill="#008000"/>
<path d="M758.40,378.90L767.20,378.90L762.80,387.10Z" fill="#008000"/>
<path d="M759.20,386.60L768.00,386.60L763.60,394.80Z" fill="#008000"/>
<path d="M760.00,402.10L768.80,402.10L764.40,410.30Z" fill="#008000"/>
<path d="M760.40,412.90L769.20,412.90L764.80,421.10Z" fill="#008000"/>
<path d="M761.50,435.30L770.30,435.30L765.90,443.50Z" fill="#008000"/>
<path d="M762.30,447.70L771.10,447.70L766.70,455.90Z" fill="#008000"/>
<path d="M763.10,460.10L771.90,460.10L767.50,468.30Z" fill="#008000"/>
<path d="M763.80,472.50L772.60,472.50L768.20,480.70Z" fill="#008000"/>
<path d="M764.60,483.30L773.40,483.30L769.00,491.50Z" fill="#008000"/>
<path d="M764.60,494.90L773.40,494.90L769.00,503.10Z" fill="#008000"/>
<path d="M765.10,504.20L773.90,504.20L769.50,512.40Z" fill="#008000"/>
<path d="M765.40,515.80L774.20,515.80L769.80,524.00Z" fill="#008000"/>
<path d="M765.40,525.90L774.20,525.90L769.80,534.10Z" fill="#008000"/>
<path d="M765.40,537.50L774.20,537.50L769.80,545.70Z" fill="#008000"/>
<path d="M765.40,542.90L774.20,542.90L769.80,551.10Z" fill="#008000"/>
</g>
<line x1="131.80" y1="17.70" x2="131.80" y2="552.00" stroke="#000" stroke-width="2" />
<line x1="130.80" y1="551.00" x2="857.30" y2="551.00" stroke="#000" stroke-width="2" />
<line x1="120.80" y1="18.70" x2="131.80" y2="18.70" stroke="#000" stroke-width="2" />
<text transform="translate(112.80,26.90) scale(1,1.07)" font-size="28.2" text-anchor="end">4.5</text>
<line x1="126.30" y1="85.24" x2="131.80" y2="85.24" stroke="#000" stroke-width="2" />
<line x1="120.80" y1="151.77" x2="131.80" y2="151.77" stroke="#000" stroke-width="2" />
<text transform="translate(112.80,159.97) scale(1,1.07)" font-size="28.2" text-anchor="end">4.0</text>
<line x1="126.30" y1="218.31" x2="131.80" y2="218.31" stroke="#000" stroke-width="2" />
<line x1="120.80" y1="284.85" x2="131.80" y2="284.85" stroke="#000" stroke-width="2" />
<text transform="translate(112.80,293.05) scale(1,1.07)" font-size="28.2" text-anchor="end">3.5</text>
<line x1="126.30" y1="351.39" x2="131.80" y2="351.39" stroke="#000" stroke-width="2" />
<line x1="120.80" y1="417.92" x2="131.80" y2="417.92" stroke="#000" stroke-width="2" />
<text transform="translate(112.80,426.12) scale(1,1.07)" font-size="28.2" text-anchor="end">3.0</text>
<line x1="126.30" y1="484.46" x2="131.80" y2="484.46" stroke="#000" stroke-width="2" />
<line x1="120.80" y1="551.00" x2="131.80" y2="551.00" stroke="#000" stroke-width="2" />
<text transform="translate(112.80,559.20) scale(1,1.07)" font-size="28.2" text-anchor="end">2.5</text>
<line x1="131.80" y1="551.00" x2="131.80" y2="562.00" stroke="#000" stroke-width="2" />
<text transform="translate(131.80,594.00) scale(1,1.07)" font-size="28.2" text-anchor="middle">0</text>
<line x1="172.05" y1="551.00" x2="172.05" y2="556.50" stroke="#000" stroke-width="2" />
<line x1="212.30" y1="551.00" x2="212.30" y2="562.00" stroke="#000" stroke-width="2" />
<text transform="translate(212.30,594.00) scale(1,1.07)" font-size="28.2" text-anchor="middle">20</text>
<line x1="252.55" y1="551.00" x2="252.55" y2="556.50" stroke="#000" stroke-width="2" />
<line x1="292.80" y1="551.00" x2="292.80" y2="562.00" stroke="#000" stroke-width="2" />
<text transform="translate(292.80,594.00) scale(1,1.07)" font-size="28.2" text-anchor="middle">40</text>
<line x1="333.05" y1="551.00" x2="333.05" y2="556.50" stroke="#000" stroke-width="2" />
<line x1="373.30" y1="551.00" x2="373.30" y2="562.00" stroke="#000" stroke-width="2" />
<text transform="translate(373.30,594.00) scale(1,1.07)" font-size="28.2" text-anchor="middle">60</text>
<line x1="413.55" y1="551.00" x2="413.55" y2="556.50" stroke="#000" stroke-width="2" />
<line x1="453.80" y1="551.00" x2="453.80" y2="562.00" stroke="#000" stroke-width="2" />
<text transform="translate(453.80,594.00) scale(1,1.07)" font-size="28.2" text-anchor="middle">80</text>
<line x1="494.05" y1="551.00" x2="494.05" y2="556.50" stroke="#000" stroke-width="2" />
<line x1="534.30" y1="551.00" x2="534.30" y2="562.00" stroke="#000" stroke-width="2" />
<g transform="translate(534.30,594.00) scale(1,1.07)"><text font-size="28.2" text-anchor="middle"> 00</text><path d="M763,0H583V1102Q518,1043 412,983Q306,924 222,894V1061Q372,1129 484,1226Q596,1323 643,1414H763Z" transform="translate(-23.53,0) scale(0.01377,-0.01377)"/></g>
<line x1="574.55" y1="551.00" x2="574.55" y2="556.50" stroke="#000" stroke-width="2" />
<line x1="614.80" y1="551.00" x2="614.80" y2="562.00" stroke="#000" stroke-width="2" />
<g transform="translate(614.80,594.00) scale(1,1.07)"><text font-size="28.2" text-anchor="middle"> 20</text><path d="M763,0H583V1102Q518,1043 412,983Q306,924 222,894V1061Q372,1129 484,1226Q596,1323 643,1414H763Z" transform="translate(-23.53,0) scale(0.01377,-0.01377)"/></g>
<line x1="655.05" y1="551.00" x2="655.05" y2="556.50" stroke="#000" stroke-width="2" />
<line x1="695.30" y1="551.00" x2="695.30" y2="562.00" stroke="#000" stroke-width="2" />
<g transform="translate(695.30,594.00) scale(1,1.07)"><text font-size="28.2" text-anchor="middle"> 40</text><path d="M763,0H583V1102Q518,1043 412,983Q306,924 222,894V1061Q372,1129 484,1226Q596,1323 643,1414H763Z" transform="translate(-23.53,0) scale(0.01377,-0.01377)"/></g>
<line x1="735.55" y1="551.00" x2="735.55" y2="556.50" stroke="#000" stroke-width="2" />
<line x1="775.80" y1="551.00" x2="775.80" y2="562.00" stroke="#000" stroke-width="2" />
<g transform="translate(775.80,594.00) scale(1,1.07)"><text font-size="28.2" text-anchor="middle"> 60</text><path d="M763,0H583V1102Q518,1043 412,983Q306,924 222,894V1061Q372,1129 484,1226Q596,1323 643,1414H763Z" transform="translate(-23.53,0) scale(0.01377,-0.01377)"/></g>
<line x1="816.05" y1="551.00" x2="816.05" y2="556.50" stroke="#000" stroke-width="2" />
<line x1="856.30" y1="551.00" x2="856.30" y2="562.00" stroke="#000" stroke-width="2" />
<g transform="translate(856.30,594.00) scale(1,1.07)"><text font-size="28.2" text-anchor="middle"> 80</text><path d="M763,0H583V1102Q518,1043 412,983Q306,924 222,894V1061Q372,1129 484,1226Q596,1323 643,1414H763Z" transform="translate(-23.53,0) scale(0.01377,-0.01377)"/></g>
<text transform="translate(490.00,652.00) scale(1,1.03)" font-size="38.6" text-anchor="middle">Capacity (mAh/g)</text>
<text transform="translate(40.8,306.5) rotate(-90) scale(1,1.0)" font-size="38.8" text-anchor="middle">E (V vs. Li<tspan dy="-22" font-size="22">+</tspan><tspan dy="22">/Li)</tspan></text>
<text transform="translate(145.50,54.00) scale(1,1.0)" font-size="43" text-anchor="start">(A)</text>
<text transform="translate(405.85,355.20) scale(1,1.0)" font-size="26" text-anchor="middle">(a)</text>
<line x1="388.80" y1="341.30" x2="353.61" y2="323.51" stroke="#000" stroke-width="2" />
<path d="M342.90,318.10L357.31,320.62L354.50,323.96L353.48,328.21Z" fill="#000"/>
<text transform="translate(568.70,384.10) scale(1,1.0)" font-size="26" text-anchor="middle">(b)</text>
<line x1="580.40" y1="362.00" x2="600.52" y2="340.89" stroke="#000" stroke-width="2" />
<path d="M608.80,332.20L602.22,345.27L599.83,341.61L596.06,339.40Z" fill="#000"/>
<text transform="translate(614.70,411.40) scale(1,1.0)" font-size="26" text-anchor="middle">(c)</text>
<line x1="627.70" y1="393.50" x2="686.57" y2="342.00" stroke="#000" stroke-width="2" />
<path d="M695.60,334.10L687.86,346.52L685.82,342.66L682.26,340.12Z" fill="#000"/>
<text transform="translate(651.90,442.00) scale(1,1.0)" font-size="26" text-anchor="middle">(d)</text>
<line x1="663.00" y1="424.20" x2="685.30" y2="396.37" stroke="#000" stroke-width="2" />
<path d="M692.80,387.00L687.36,400.58L684.67,397.15L680.73,395.27Z" fill="#000"/>
<g clip-path="url(#cbot)">
<rect x="147.8" y="833.2" width="710" height="7.9" fill="#0000ff"/>
<circle cx="155.27" cy="830.60" r="6.10" fill="#ff0000"/>
<circle cx="169.53" cy="830.60" r="6.10" fill="#ff0000"/>
<circle cx="183.80" cy="830.60" r="6.10" fill="#ff0000"/>
<circle cx="198.06" cy="830.60" r="6.10" fill="#ff0000"/>
<circle cx="212.33" cy="830.60" r="6.10" fill="#ff0000"/>
<circle cx="226.60" cy="830.60" r="6.10" fill="#ff0000"/>
<circle cx="240.86" cy="830.60" r="6.10" fill="#ff0000"/>
<circle cx="255.13" cy="830.60" r="6.10" fill="#ff0000"/>
<circle cx="269.39" cy="830.60" r="6.10" fill="#ff0000"/>
<circle cx="283.66" cy="830.60" r="6.10" fill="#ff0000"/>
<circle cx="297.93" cy="830.60" r="6.10" fill="#ff0000"/>
<circle cx="312.19" cy="830.60" r="6.10" fill="#ff0000"/>
<circle cx="326.46" cy="830.60" r="6.10" fill="#ff0000"/>
<circle cx="340.72" cy="830.60" r="6.10" fill="#ff0000"/>
<circle cx="354.99" cy="830.60" r="6.10" fill="#ff0000"/>
<circle cx="369.26" cy="830.60" r="6.10" fill="#ff0000"/>
<circle cx="383.52" cy="830.60" r="6.10" fill="#ff0000"/>
<circle cx="397.79" cy="830.60" r="6.10" fill="#ff0000"/>
<circle cx="412.05" cy="830.60" r="6.10" fill="#ff0000"/>
<circle cx="426.32" cy="830.60" r="6.10" fill="#ff0000"/>
<circle cx="440.59" cy="830.60" r="6.10" fill="#ff0000"/>
<circle cx="454.85" cy="830.60" r="6.10" fill="#ff0000"/>
<circle cx="469.12" cy="830.60" r="6.10" fill="#ff0000"/>
<circle cx="483.38" cy="830.60" r="6.10" fill="#ff0000"/>
<circle cx="497.65" cy="830.60" r="6.10" fill="#ff0000"/>
<circle cx="511.92" cy="830.60" r="6.10" fill="#ff0000"/>
<circle cx="526.18" cy="830.60" r="6.10" fill="#ff0000"/>
<circle cx="540.45" cy="830.60" r="6.10" fill="#ff0000"/>
<circle cx="554.71" cy="830.60" r="6.10" fill="#ff0000"/>
<circle cx="568.98" cy="830.60" r="6.10" fill="#ff0000"/>
<circle cx="583.25" cy="830.60" r="6.10" fill="#ff0000"/>
<circle cx="597.51" cy="830.60" r="6.10" fill="#ff0000"/>
<circle cx="611.78" cy="830.60" r="6.10" fill="#ff0000"/>
<circle cx="626.04" cy="830.60" r="6.10" fill="#ff0000"/>
<circle cx="640.31" cy="830.60" r="6.10" fill="#ff0000"/>
<circle cx="654.58" cy="830.60" r="6.10" fill="#ff0000"/>
<circle cx="668.84" cy="830.60" r="6.10" fill="#ff0000"/>
<circle cx="683.11" cy="830.60" r="6.10" fill="#ff0000"/>
<circle cx="697.37" cy="830.60" r="6.10" fill="#ff0000"/>
<circle cx="711.64" cy="830.60" r="6.10" fill="#ff0000"/>
<circle cx="725.91" cy="830.60" r="6.10" fill="#ff0000"/>
<circle cx="740.17" cy="830.60" r="6.10" fill="#ff0000"/>
<circle cx="754.44" cy="830.60" r="6.10" fill="#ff0000"/>
<circle cx="768.70" cy="830.60" r="6.10" fill="#ff0000"/>
<circle cx="782.97" cy="830.60" r="6.10" fill="#ff0000"/>
<circle cx="797.24" cy="830.60" r="6.10" fill="#ff0000"/>
<circle cx="811.50" cy="830.60" r="6.10" fill="#ff0000"/>
<circle cx="825.77" cy="830.60" r="6.10" fill="#ff0000"/>
<circle cx="840.03" cy="830.60" r="6.10" fill="#ff0000"/>
<circle cx="854.30" cy="830.60" r="6.10" fill="#ff0000"/>
<rect x="161.62" y="827.5" width="1.6" height="11" fill="#fff"/>
<rect x="175.88" y="827.5" width="1.6" height="11" fill="#fff"/>
<rect x="190.15" y="827.5" width="1.6" height="11" fill="#fff"/>
<rect x="204.41" y="827.5" width="1.6" height="11" fill="#fff"/>
<rect x="218.68" y="827.5" width="1.6" height="11" fill="#fff"/>
<rect x="232.95" y="827.5" width="1.6" height="11" fill="#fff"/>
<rect x="247.21" y="827.5" width="1.6" height="11" fill="#fff"/>
<rect x="261.48" y="827.5" width="1.6" height="11" fill="#fff"/>
<rect x="275.74" y="827.5" width="1.6" height="11" fill="#fff"/>
<rect x="290.01" y="827.5" width="1.6" height="11" fill="#fff"/>
<rect x="304.28" y="827.5" width="1.6" height="11" fill="#fff"/>
<rect x="318.54" y="827.5" width="1.6" height="11" fill="#fff"/>
<rect x="332.81" y="827.5" width="1.6" height="11" fill="#fff"/>
<rect x="347.07" y="827.5" width="1.6" height="11" fill="#fff"/>
<rect x="361.34" y="827.5" width="1.6" height="11" fill="#fff"/>
<rect x="375.61" y="827.5" width="1.6" height="11" fill="#fff"/>
<rect x="389.87" y="827.5" width="1.6" height="11" fill="#fff"/>
<rect x="404.14" y="827.5" width="1.6" height="11" fill="#fff"/>
<rect x="418.40" y="827.5" width="1.6" height="11" fill="#fff"/>
<rect x="432.67" y="827.5" width="1.6" height="11" fill="#fff"/>
<rect x="446.94" y="827.5" width="1.6" height="11" fill="#fff"/>
<rect x="461.20" y="827.5" width="1.6" height="11" fill="#fff"/>
<rect x="475.47" y="827.5" width="1.6" height="11" fill="#fff"/>
<rect x="489.73" y="827.5" width="1.6" height="11" fill="#fff"/>
<rect x="504.00" y="827.5" width="1.6" height="11" fill="#fff"/>
<rect x="518.27" y="827.5" width="1.6" height="11" fill="#fff"/>
<rect x="532.53" y="827.5" width="1.6" height="11" fill="#fff"/>
<rect x="546.80" y="827.5" width="1.6" height="11" fill="#fff"/>
<rect x="561.06" y="827.5" width="1.6" height="11" fill="#fff"/>
<rect x="575.33" y="827.5" width="1.6" height="11" fill="#fff"/>
<rect x="589.60" y="827.5" width="1.6" height="11" fill="#fff"/>
<rect x="603.86" y="827.5" width="1.6" height="11" fill="#fff"/>
<rect x="618.13" y="827.5" width="1.6" height="11" fill="#fff"/>
<rect x="632.39" y="827.5" width="1.6" height="11" fill="#fff"/>
<rect x="646.66" y="827.5" width="1.6" height="11" fill="#fff"/>
<rect x="660.93" y="827.5" width="1.6" height="11" fill="#fff"/>
<rect x="675.19" y="827.5" width="1.6" height="11" fill="#fff"/>
<rect x="689.46" y="827.5" width="1.6" height="11" fill="#fff"/>
<rect x="703.72" y="827.5" width="1.6" height="11" fill="#fff"/>
<rect x="717.99" y="827.5" width="1.6" height="11" fill="#fff"/>
<rect x="732.26" y="827.5" width="1.6" height="11" fill="#fff"/>
<rect x="746.52" y="827.5" width="1.6" height="11" fill="#fff"/>
<rect x="760.79" y="827.5" width="1.6" height="11" fill="#fff"/>
<rect x="775.05" y="827.5" width="1.6" height="11" fill="#fff"/>
<rect x="789.32" y="827.5" width="1.6" height="11" fill="#fff"/>
<rect x="803.59" y="827.5" width="1.6" height="11" fill="#fff"/>
<rect x="817.85" y="827.5" width="1.6" height="11" fill="#fff"/>
<rect x="832.12" y="827.5" width="1.6" height="11" fill="#fff"/>
<rect x="846.38" y="827.5" width="1.6" height="11" fill="#fff"/>
<rect x="860.65" y="827.5" width="1.6" height="11" fill="#fff"/>
<path d="M148.12,825.30L162.42,825.30L155.27,838.30Z" fill="#008000"/>
<path d="M162.38,825.30L176.68,825.30L169.53,838.30Z" fill="#008000"/>
<path d="M176.65,825.30L190.95,825.30L183.80,838.30Z" fill="#008000"/>
<path d="M190.91,825.30L205.21,825.30L198.06,838.30Z" fill="#008000"/>
<path d="M205.18,825.30L219.48,825.30L212.33,838.30Z" fill="#008000"/>
<path d="M219.45,825.30L233.75,825.30L226.60,838.30Z" fill="#008000"/>
<path d="M233.71,825.30L248.01,825.30L240.86,838.30Z" fill="#008000"/>
<path d="M247.98,825.30L262.28,825.30L255.13,838.30Z" fill="#008000"/>
<path d="M262.24,825.30L276.54,825.30L269.39,838.30Z" fill="#008000"/>
<path d="M276.51,825.30L290.81,825.30L283.66,838.30Z" fill="#008000"/>
<path d="M290.78,825.30L305.08,825.30L297.93,838.30Z" fill="#008000"/>
<path d="M305.04,825.30L319.34,825.30L312.19,838.30Z" fill="#008000"/>
<path d="M319.31,825.30L333.61,825.30L326.46,838.30Z" fill="#008000"/>
<path d="M333.57,825.30L347.87,825.30L340.72,838.30Z" fill="#008000"/>
<path d="M347.84,825.30L362.14,825.30L354.99,838.30Z" fill="#008000"/>
<path d="M362.11,825.30L376.41,825.30L369.26,838.30Z" fill="#008000"/>
<path d="M376.37,825.30L390.67,825.30L383.52,838.30Z" fill="#008000"/>
<path d="M390.64,825.30L404.94,825.30L397.79,838.30Z" fill="#008000"/>
<path d="M404.90,825.30L419.20,825.30L412.05,838.30Z" fill="#008000"/>
<path d="M419.17,825.30L433.47,825.30L426.32,838.30Z" fill="#008000"/>
<path d="M433.44,825.30L447.74,825.30L440.59,838.30Z" fill="#008000"/>
<path d="M447.70,825.30L462.00,825.30L454.85,838.30Z" fill="#008000"/>
<path d="M461.97,825.30L476.27,825.30L469.12,838.30Z" fill="#008000"/>
<path d="M476.23,825.30L490.53,825.30L483.38,838.30Z" fill="#008000"/>
<path d="M490.50,825.30L504.80,825.30L497.65,838.30Z" fill="#008000"/>
<path d="M504.77,825.30L519.07,825.30L511.92,838.30Z" fill="#008000"/>
<path d="M519.03,825.30L533.33,825.30L526.18,838.30Z" fill="#008000"/>
<path d="M533.30,825.30L547.60,825.30L540.45,838.30Z" fill="#008000"/>
<path d="M547.56,825.30L561.86,825.30L554.71,838.30Z" fill="#008000"/>
<path d="M561.83,825.30L576.13,825.30L568.98,838.30Z" fill="#008000"/>
<path d="M576.10,825.30L590.40,825.30L583.25,838.30Z" fill="#008000"/>
<path d="M590.36,825.30L604.66,825.30L597.51,838.30Z" fill="#008000"/>
<path d="M604.63,825.30L618.93,825.30L611.78,838.30Z" fill="#008000"/>
<path d="M618.89,825.30L633.19,825.30L626.04,838.30Z" fill="#008000"/>
<path d="M633.16,825.30L647.46,825.30L640.31,838.30Z" fill="#008000"/>
<path d="M647.43,825.30L661.73,825.30L654.58,838.30Z" fill="#008000"/>
<path d="M661.69,825.30L675.99,825.30L668.84,838.30Z" fill="#008000"/>
<path d="M675.96,825.30L690.26,825.30L683.11,838.30Z" fill="#008000"/>
<path d="M690.22,825.30L704.52,825.30L697.37,838.30Z" fill="#008000"/>
<path d="M704.49,825.30L718.79,825.30L711.64,838.30Z" fill="#008000"/>
<path d="M718.76,825.30L733.06,825.30L725.91,838.30Z" fill="#008000"/>
<path d="M733.02,825.30L747.32,825.30L740.17,838.30Z" fill="#008000"/>
<path d="M747.29,825.30L761.59,825.30L754.44,838.30Z" fill="#008000"/>
<path d="M761.55,825.30L775.85,825.30L768.70,838.30Z" fill="#008000"/>
<path d="M775.82,825.30L790.12,825.30L782.97,838.30Z" fill="#008000"/>
<path d="M790.09,825.30L804.39,825.30L797.24,838.30Z" fill="#008000"/>
<path d="M804.35,825.30L818.65,825.30L811.50,838.30Z" fill="#008000"/>
<path d="M818.62,825.30L832.92,825.30L825.77,838.30Z" fill="#008000"/>
<path d="M832.88,825.30L847.18,825.30L840.03,838.30Z" fill="#008000"/>
<path d="M847.15,825.30L861.45,825.30L854.30,838.30Z" fill="#008000"/>
<polyline points="155.27,947.00 169.53,947.71 183.80,948.42 198.06,949.13 212.33,949.84 226.60,950.56 240.86,951.27 255.13,951.98 269.39,952.69 283.66,953.40 297.93,954.28 312.19,955.16 326.46,956.04 340.72,956.92 354.99,957.80 369.26,958.68 383.52,959.56 397.79,960.44 412.05,961.32 426.32,962.20 440.59,962.70 454.85,963.20 469.12,963.70 483.38,964.20 497.65,964.70 511.92,966.85 526.18,969.00 540.45,969.88 554.71,970.75 568.98,971.62 583.25,972.50 597.51,971.75 611.78,971.00 626.04,970.50 640.31,972.08 654.58,973.67 668.84,975.25 683.11,976.83 697.37,978.42 711.64,980.00 725.91,981.30 740.17,982.60 754.44,983.90 768.70,985.20 782.97,986.50 797.24,987.20 811.50,987.90 825.77,988.60 840.03,989.30 854.30,990.00" fill="none" stroke="#000" stroke-width="1.5"/>
<rect x="149.97" y="941.70" width="10.60" height="10.60" fill="#000"/>
<rect x="164.23" y="942.41" width="10.60" height="10.60" fill="#000"/>
<rect x="178.50" y="943.12" width="10.60" height="10.60" fill="#000"/>
<rect x="192.76" y="943.83" width="10.60" height="10.60" fill="#000"/>
<rect x="207.03" y="944.54" width="10.60" height="10.60" fill="#000"/>
<rect x="221.30" y="945.26" width="10.60" height="10.60" fill="#000"/>
<rect x="235.56" y="945.97" width="10.60" height="10.60" fill="#000"/>
<rect x="249.83" y="946.68" width="10.60" height="10.60" fill="#000"/>
<rect x="264.09" y="947.39" width="10.60" height="10.60" fill="#000"/>
<rect x="278.36" y="948.10" width="10.60" height="10.60" fill="#000"/>
<rect x="292.63" y="948.98" width="10.60" height="10.60" fill="#000"/>
<rect x="306.89" y="949.86" width="10.60" height="10.60" fill="#000"/>
<rect x="321.16" y="950.74" width="10.60" height="10.60" fill="#000"/>
<rect x="335.42" y="951.62" width="10.60" height="10.60" fill="#000"/>
<rect x="349.69" y="952.50" width="10.60" height="10.60" fill="#000"/>
<rect x="363.96" y="953.38" width="10.60" height="10.60" fill="#000"/>
<rect x="378.22" y="954.26" width="10.60" height="10.60" fill="#000"/>
<rect x="392.49" y="955.14" width="10.60" height="10.60" fill="#000"/>
<rect x="406.75" y="956.02" width="10.60" height="10.60" fill="#000"/>
<rect x="421.02" y="956.90" width="10.60" height="10.60" fill="#000"/>
<rect x="435.29" y="957.40" width="10.60" height="10.60" fill="#000"/>
<rect x="449.55" y="957.90" width="10.60" height="10.60" fill="#000"/>
<rect x="463.82" y="958.40" width="10.60" height="10.60" fill="#000"/>
<rect x="478.08" y="958.90" width="10.60" height="10.60" fill="#000"/>
<rect x="492.35" y="959.40" width="10.60" height="10.60" fill="#000"/>
<rect x="506.62" y="961.55" width="10.60" height="10.60" fill="#000"/>
<rect x="520.88" y="963.70" width="10.60" height="10.60" fill="#000"/>
<rect x="535.15" y="964.58" width="10.60" height="10.60" fill="#000"/>
<rect x="549.41" y="965.45" width="10.60" height="10.60" fill="#000"/>
<rect x="563.68" y="966.33" width="10.60" height="10.60" fill="#000"/>
<rect x="577.95" y="967.20" width="10.60" height="10.60" fill="#000"/>
<rect x="592.21" y="966.45" width="10.60" height="10.60" fill="#000"/>
<rect x="606.48" y="965.70" width="10.60" height="10.60" fill="#000"/>
<rect x="620.74" y="965.20" width="10.60" height="10.60" fill="#000"/>
<rect x="635.01" y="966.78" width="10.60" height="10.60" fill="#000"/>
<rect x="649.28" y="968.37" width="10.60" height="10.60" fill="#000"/>
<rect x="663.54" y="969.95" width="10.60" height="10.60" fill="#000"/>
<rect x="677.81" y="971.53" width="10.60" height="10.60" fill="#000"/>
<rect x="692.07" y="973.12" width="10.60" height="10.60" fill="#000"/>
<rect x="706.34" y="974.70" width="10.60" height="10.60" fill="#000"/>
<rect x="720.61" y="976.00" width="10.60" height="10.60" fill="#000"/>
<rect x="734.87" y="977.30" width="10.60" height="10.60" fill="#000"/>
<rect x="749.14" y="978.60" width="10.60" height="10.60" fill="#000"/>
<rect x="763.40" y="979.90" width="10.60" height="10.60" fill="#000"/>
<rect x="777.67" y="981.20" width="10.60" height="10.60" fill="#000"/>
<rect x="791.94" y="981.90" width="10.60" height="10.60" fill="#000"/>
<rect x="806.20" y="982.60" width="10.60" height="10.60" fill="#000"/>
<rect x="820.47" y="983.30" width="10.60" height="10.60" fill="#000"/>
<rect x="834.73" y="984.00" width="10.60" height="10.60" fill="#000"/>
<rect x="849.00" y="984.70" width="10.60" height="10.60" fill="#000"/>
<circle cx="155.27" cy="964.50" r="5.90" fill="#ff0000"/>
<circle cx="169.53" cy="964.84" r="5.90" fill="#ff0000"/>
<circle cx="183.80" cy="965.19" r="5.90" fill="#ff0000"/>
<circle cx="198.06" cy="965.53" r="5.90" fill="#ff0000"/>
<circle cx="212.33" cy="965.88" r="5.90" fill="#ff0000"/>
<circle cx="226.60" cy="966.22" r="5.90" fill="#ff0000"/>
<circle cx="240.86" cy="966.57" r="5.90" fill="#ff0000"/>
<circle cx="255.13" cy="966.91" r="5.90" fill="#ff0000"/>
<circle cx="269.39" cy="967.26" r="5.90" fill="#ff0000"/>
<circle cx="283.66" cy="967.60" r="5.90" fill="#ff0000"/>
<circle cx="297.93" cy="968.36" r="5.90" fill="#ff0000"/>
<circle cx="312.19" cy="969.11" r="5.90" fill="#ff0000"/>
<circle cx="326.46" cy="969.87" r="5.90" fill="#ff0000"/>
<circle cx="340.72" cy="970.63" r="5.90" fill="#ff0000"/>
<circle cx="354.99" cy="971.39" r="5.90" fill="#ff0000"/>
<circle cx="369.26" cy="972.14" r="5.90" fill="#ff0000"/>
<circle cx="383.52" cy="972.90" r="5.90" fill="#ff0000"/>
<circle cx="397.79" cy="974.00" r="5.90" fill="#ff0000"/>
<circle cx="412.05" cy="975.10" r="5.90" fill="#ff0000"/>
<circle cx="426.32" cy="976.20" r="5.90" fill="#ff0000"/>
<circle cx="440.59" cy="977.02" r="5.90" fill="#ff0000"/>
<circle cx="454.85" cy="977.84" r="5.90" fill="#ff0000"/>
<circle cx="469.12" cy="978.66" r="5.90" fill="#ff0000"/>
<circle cx="483.38" cy="979.48" r="5.90" fill="#ff0000"/>
<circle cx="497.65" cy="980.30" r="5.90" fill="#ff0000"/>
<circle cx="511.92" cy="980.76" r="5.90" fill="#ff0000"/>
<circle cx="526.18" cy="981.22" r="5.90" fill="#ff0000"/>
<circle cx="540.45" cy="981.68" r="5.90" fill="#ff0000"/>
<circle cx="554.71" cy="982.14" r="5.90" fill="#ff0000"/>
<circle cx="568.98" cy="982.60" r="5.90" fill="#ff0000"/>
<circle cx="583.25" cy="983.15" r="5.90" fill="#ff0000"/>
<circle cx="597.51" cy="983.70" r="5.90" fill="#ff0000"/>
<circle cx="611.78" cy="984.25" r="5.90" fill="#ff0000"/>
<circle cx="626.04" cy="984.80" r="5.90" fill="#ff0000"/>
<circle cx="640.31" cy="984.97" r="5.90" fill="#ff0000"/>
<circle cx="654.58" cy="985.14" r="5.90" fill="#ff0000"/>
<circle cx="668.84" cy="985.31" r="5.90" fill="#ff0000"/>
<circle cx="683.11" cy="985.49" r="5.90" fill="#ff0000"/>
<circle cx="697.37" cy="985.66" r="5.90" fill="#ff0000"/>
<circle cx="711.64" cy="985.83" r="5.90" fill="#ff0000"/>
<circle cx="725.91" cy="986.00" r="5.90" fill="#ff0000"/>
<circle cx="740.17" cy="986.44" r="5.90" fill="#ff0000"/>
<circle cx="754.44" cy="986.88" r="5.90" fill="#ff0000"/>
<circle cx="768.70" cy="987.32" r="5.90" fill="#ff0000"/>
<circle cx="782.97" cy="987.76" r="5.90" fill="#ff0000"/>
<circle cx="797.24" cy="988.20" r="5.90" fill="#ff0000"/>
<circle cx="811.50" cy="989.35" r="5.90" fill="#ff0000"/>
<circle cx="825.77" cy="990.50" r="5.90" fill="#ff0000"/>
<circle cx="840.03" cy="991.35" r="5.90" fill="#ff0000"/>
<circle cx="854.30" cy="992.20" r="5.90" fill="#ff0000"/>
<polyline points="155.27,972.60 169.53,972.56 183.80,972.53 198.06,972.49 212.33,972.45 226.60,972.42 240.86,972.38 255.13,972.34 269.39,972.31 283.66,972.27 297.93,972.23 312.19,972.19 326.46,972.16 340.72,972.12 354.99,972.08 369.26,972.05 383.52,972.01 397.79,971.97 412.05,971.94 426.32,971.90 440.59,971.98 454.85,972.06 469.12,972.14 483.38,972.22 497.65,972.30 511.92,972.38 526.18,972.46 540.45,972.54 554.71,972.62 568.98,972.70 583.25,972.78 597.51,972.86 611.78,972.94 626.04,973.02 640.31,973.10 654.58,973.14 668.84,973.18 683.11,973.22 697.37,973.25 711.64,973.29 725.91,973.33 740.17,973.37 754.44,973.41 768.70,973.45 782.97,973.48 797.24,973.52 811.50,973.56 825.77,973.60 840.03,973.95 854.30,974.30" fill="none" stroke="#ff00ff" stroke-width="1.5"/>
<path d="M148.12,969.30L162.42,969.30L155.27,981.30Z" fill="#008000"/>
<path d="M162.38,969.26L176.68,969.26L169.53,981.26Z" fill="#008000"/>
<path d="M176.65,969.23L190.95,969.23L183.80,981.23Z" fill="#008000"/>
<path d="M190.91,969.19L205.21,969.19L198.06,981.19Z" fill="#008000"/>
<path d="M205.18,969.15L219.48,969.15L212.33,981.15Z" fill="#008000"/>
<path d="M219.45,969.12L233.75,969.12L226.60,981.12Z" fill="#008000"/>
<path d="M233.71,969.08L248.01,969.08L240.86,981.08Z" fill="#008000"/>
<path d="M247.98,969.04L262.28,969.04L255.13,981.04Z" fill="#008000"/>
<path d="M262.24,969.01L276.54,969.01L269.39,981.01Z" fill="#008000"/>
<path d="M276.51,968.97L290.81,968.97L283.66,980.97Z" fill="#008000"/>
<path d="M290.78,968.93L305.08,968.93L297.93,980.93Z" fill="#008000"/>
<path d="M305.04,968.89L319.34,968.89L312.19,980.89Z" fill="#008000"/>
<path d="M319.31,968.86L333.61,968.86L326.46,980.86Z" fill="#008000"/>
<path d="M333.57,968.82L347.87,968.82L340.72,980.82Z" fill="#008000"/>
<path d="M347.84,968.78L362.14,968.78L354.99,980.78Z" fill="#008000"/>
<path d="M362.11,968.75L376.41,968.75L369.26,980.75Z" fill="#008000"/>
<path d="M376.37,968.71L390.67,968.71L383.52,980.71Z" fill="#008000"/>
<path d="M390.64,968.67L404.94,968.67L397.79,980.67Z" fill="#008000"/>
<path d="M404.90,968.64L419.20,968.64L412.05,980.64Z" fill="#008000"/>
<path d="M419.17,968.60L433.47,968.60L426.32,980.60Z" fill="#008000"/>
<path d="M433.44,968.68L447.74,968.68L440.59,980.68Z" fill="#008000"/>
<path d="M447.70,968.76L462.00,968.76L454.85,980.76Z" fill="#008000"/>
<path d="M461.97,968.84L476.27,968.84L469.12,980.84Z" fill="#008000"/>
<path d="M476.23,968.92L490.53,968.92L483.38,980.92Z" fill="#008000"/>
<path d="M490.50,969.00L504.80,969.00L497.65,981.00Z" fill="#008000"/>
<path d="M504.77,969.08L519.07,969.08L511.92,981.08Z" fill="#008000"/>
<path d="M519.03,969.16L533.33,969.16L526.18,981.16Z" fill="#008000"/>
<path d="M533.30,969.24L547.60,969.24L540.45,981.24Z" fill="#008000"/>
<path d="M547.56,969.32L561.86,969.32L554.71,981.32Z" fill="#008000"/>
<path d="M561.83,969.40L576.13,969.40L568.98,981.40Z" fill="#008000"/>
<path d="M576.10,969.48L590.40,969.48L583.25,981.48Z" fill="#008000"/>
<path d="M590.36,969.56L604.66,969.56L597.51,981.56Z" fill="#008000"/>
<path d="M604.63,969.64L618.93,969.64L611.78,981.64Z" fill="#008000"/>
<path d="M618.89,969.72L633.19,969.72L626.04,981.72Z" fill="#008000"/>
<path d="M633.16,969.80L647.46,969.80L640.31,981.80Z" fill="#008000"/>
<path d="M647.43,969.84L661.73,969.84L654.58,981.84Z" fill="#008000"/>
<path d="M661.69,969.88L675.99,969.88L668.84,981.88Z" fill="#008000"/>
<path d="M675.96,969.92L690.26,969.92L683.11,981.92Z" fill="#008000"/>
<path d="M690.22,969.95L704.52,969.95L697.37,981.95Z" fill="#008000"/>
<path d="M704.49,969.99L718.79,969.99L711.64,981.99Z" fill="#008000"/>
<path d="M718.76,970.03L733.06,970.03L725.91,982.03Z" fill="#008000"/>
<path d="M733.02,970.07L747.32,970.07L740.17,982.07Z" fill="#008000"/>
<path d="M747.29,970.11L761.59,970.11L754.44,982.11Z" fill="#008000"/>
<path d="M761.55,970.15L775.85,970.15L768.70,982.15Z" fill="#008000"/>
<path d="M775.82,970.18L790.12,970.18L782.97,982.18Z" fill="#008000"/>
<path d="M790.09,970.22L804.39,970.22L797.24,982.22Z" fill="#008000"/>
<path d="M804.35,970.26L818.65,970.26L811.50,982.26Z" fill="#008000"/>
<path d="M818.62,970.30L832.92,970.30L825.77,982.30Z" fill="#008000"/>
<path d="M832.88,970.65L847.18,970.65L840.03,982.65Z" fill="#008000"/>
<path d="M847.15,971.00L861.45,971.00L854.30,983.00Z" fill="#008000"/>
<path d="M155.27,981.05L162.77,988.30L155.27,995.55L147.77,988.30Z" fill="#0000ff"/>
<path d="M169.53,981.43L177.03,988.68L169.53,995.93L162.03,988.68Z" fill="#0000ff"/>
<path d="M183.80,981.82L191.30,989.07L183.80,996.32L176.30,989.07Z" fill="#0000ff"/>
<path d="M198.06,982.20L205.56,989.45L198.06,996.70L190.56,989.45Z" fill="#0000ff"/>
<path d="M212.33,982.59L219.83,989.84L212.33,997.09L204.83,989.84Z" fill="#0000ff"/>
<path d="M226.60,982.97L234.10,990.22L226.60,997.47L219.10,990.22Z" fill="#0000ff"/>
<path d="M240.86,983.36L248.36,990.61L240.86,997.86L233.36,990.61Z" fill="#0000ff"/>
<path d="M255.13,983.74L262.63,990.99L255.13,998.24L247.63,990.99Z" fill="#0000ff"/>
<path d="M269.39,984.12L276.89,991.37L269.39,998.62L261.89,991.37Z" fill="#0000ff"/>
<path d="M283.66,984.51L291.16,991.76L283.66,999.01L276.16,991.76Z" fill="#0000ff"/>
<path d="M297.93,984.89L305.43,992.14L297.93,999.39L290.43,992.14Z" fill="#0000ff"/>
<path d="M312.19,985.28L319.69,992.53L312.19,999.78L304.69,992.53Z" fill="#0000ff"/>
<path d="M326.46,985.66L333.96,992.91L326.46,1000.16L318.96,992.91Z" fill="#0000ff"/>
<path d="M340.72,986.04L348.22,993.29L340.72,1000.54L333.22,993.29Z" fill="#0000ff"/>
<path d="M354.99,986.43L362.49,993.68L354.99,1000.93L347.49,993.68Z" fill="#0000ff"/>
<path d="M369.26,986.81L376.76,994.06L369.26,1001.31L361.76,994.06Z" fill="#0000ff"/>
<path d="M383.52,987.20L391.02,994.45L383.52,1001.70L376.02,994.45Z" fill="#0000ff"/>
<path d="M397.79,987.58L405.29,994.83L397.79,1002.08L390.29,994.83Z" fill="#0000ff"/>
<path d="M412.05,987.97L419.55,995.22L412.05,1002.47L404.55,995.22Z" fill="#0000ff"/>
<path d="M426.32,988.35L433.82,995.60L426.32,1002.85L418.82,995.60Z" fill="#0000ff"/>
<path d="M440.59,988.55L448.09,995.80L440.59,1003.05L433.09,995.80Z" fill="#0000ff"/>
<path d="M454.85,988.75L462.35,996.00L454.85,1003.25L447.35,996.00Z" fill="#0000ff"/>
<path d="M469.12,988.95L476.62,996.20L469.12,1003.45L461.62,996.20Z" fill="#0000ff"/>
<path d="M483.38,989.15L490.88,996.40L483.38,1003.65L475.88,996.40Z" fill="#0000ff"/>
<path d="M497.65,989.35L505.15,996.60L497.65,1003.85L490.15,996.60Z" fill="#0000ff"/>
<path d="M511.92,989.55L519.42,996.80L511.92,1004.05L504.42,996.80Z" fill="#0000ff"/>
<path d="M526.18,989.75L533.68,997.00L526.18,1004.25L518.68,997.00Z" fill="#0000ff"/>
<path d="M540.45,989.91L547.95,997.16L540.45,1004.41L532.95,997.16Z" fill="#0000ff"/>
<path d="M554.71,990.06L562.21,997.31L554.71,1004.56L547.21,997.31Z" fill="#0000ff"/>
<path d="M568.98,990.22L576.48,997.47L568.98,1004.72L561.48,997.47Z" fill="#0000ff"/>
<path d="M583.25,990.38L590.75,997.63L583.25,1004.88L575.75,997.63Z" fill="#0000ff"/>
<path d="M597.51,990.54L605.01,997.79L597.51,1005.04L590.01,997.79Z" fill="#0000ff"/>
<path d="M611.78,990.69L619.28,997.94L611.78,1005.19L604.28,997.94Z" fill="#0000ff"/>
<path d="M626.04,990.85L633.54,998.10L626.04,1005.35L618.54,998.10Z" fill="#0000ff"/>
<path d="M640.31,991.04L647.81,998.29L640.31,1005.54L632.81,998.29Z" fill="#0000ff"/>
<path d="M654.58,991.24L662.08,998.49L654.58,1005.74L647.08,998.49Z" fill="#0000ff"/>
<path d="M668.84,991.43L676.34,998.68L668.84,1005.93L661.34,998.68Z" fill="#0000ff"/>
<path d="M683.11,991.62L690.61,998.88L683.11,1006.12L675.61,998.88Z" fill="#0000ff"/>
<path d="M697.37,991.82L704.87,999.07L697.37,1006.32L689.87,999.07Z" fill="#0000ff"/>
<path d="M711.64,992.01L719.14,999.26L711.64,1006.51L704.14,999.26Z" fill="#0000ff"/>
<path d="M725.91,992.21L733.41,999.46L725.91,1006.71L718.41,999.46Z" fill="#0000ff"/>
<path d="M740.17,992.40L747.67,999.65L740.17,1006.90L732.67,999.65Z" fill="#0000ff"/>
<path d="M754.44,992.59L761.94,999.84L754.44,1007.09L746.94,999.84Z" fill="#0000ff"/>
<path d="M768.70,992.79L776.20,1000.04L768.70,1007.29L761.20,1000.04Z" fill="#0000ff"/>
<path d="M782.97,992.98L790.47,1000.23L782.97,1007.48L775.47,1000.23Z" fill="#0000ff"/>
<path d="M797.24,993.18L804.74,1000.43L797.24,1007.68L789.74,1000.43Z" fill="#0000ff"/>
<path d="M811.50,993.37L819.00,1000.62L811.50,1007.87L804.00,1000.62Z" fill="#0000ff"/>
<path d="M825.77,993.56L833.27,1000.81L825.77,1008.06L818.27,1000.81Z" fill="#0000ff"/>
<path d="M840.03,993.76L847.53,1001.01L840.03,1008.26L832.53,1001.01Z" fill="#0000ff"/>
<path d="M854.30,993.95L861.80,1001.20L854.30,1008.45L846.80,1001.20Z" fill="#0000ff"/>
</g>
<line x1="141.00" y1="732.00" x2="141.00" y2="1258.30" stroke="#000" stroke-width="2" />
<line x1="854.30" y1="732.00" x2="854.30" y2="1258.30" stroke="#000" stroke-width="2" />
<line x1="140.00" y1="1257.30" x2="855.30" y2="1257.30" stroke="#000" stroke-width="2" />
<line x1="130.00" y1="733.00" x2="141.00" y2="733.00" stroke="#000" stroke-width="2" />
<text transform="translate(122.20,741.30) scale(1,1.07)" font-size="28.2" text-anchor="end">250</text>
<line x1="135.00" y1="798.54" x2="141.00" y2="798.54" stroke="#000" stroke-width="2" />
<line x1="130.00" y1="864.08" x2="141.00" y2="864.08" stroke="#000" stroke-width="2" />
<text transform="translate(122.20,872.38) scale(1,1.07)" font-size="28.2" text-anchor="end">200</text>
<line x1="135.00" y1="929.61" x2="141.00" y2="929.61" stroke="#000" stroke-width="2" />
<line x1="130.00" y1="995.15" x2="141.00" y2="995.15" stroke="#000" stroke-width="2" />
<g transform="translate(122.20,1003.45) scale(1,1.07)"><text font-size="28.2" text-anchor="end"> 50</text><path d="M763,0H583V1102Q518,1043 412,983Q306,924 222,894V1061Q372,1129 484,1226Q596,1323 643,1414H763Z" transform="translate(-47.05,0) scale(0.01377,-0.01377)"/></g>
<line x1="135.00" y1="1060.69" x2="141.00" y2="1060.69" stroke="#000" stroke-width="2" />
<line x1="130.00" y1="1126.22" x2="141.00" y2="1126.22" stroke="#000" stroke-width="2" />
<g transform="translate(122.20,1134.52) scale(1,1.07)"><text font-size="28.2" text-anchor="end"> 00</text><path d="M763,0H583V1102Q518,1043 412,983Q306,924 222,894V1061Q372,1129 484,1226Q596,1323 643,1414H763Z" transform="translate(-47.05,0) scale(0.01377,-0.01377)"/></g>
<line x1="135.00" y1="1191.76" x2="141.00" y2="1191.76" stroke="#000" stroke-width="2" />
<line x1="130.00" y1="1257.30" x2="141.00" y2="1257.30" stroke="#000" stroke-width="2" />
<text transform="translate(122.20,1265.60) scale(1,1.07)" font-size="28.2" text-anchor="end">50</text>
<line x1="843.30" y1="733.00" x2="854.30" y2="733.00" stroke="#000" stroke-width="2" />
<g transform="translate(866.50,741.30) scale(1,1.07)"><text font-size="28.2" text-anchor="start"> 20</text><path d="M763,0H583V1102Q518,1043 412,983Q306,924 222,894V1061Q372,1129 484,1226Q596,1323 643,1414H763Z" transform="translate(0.00,0) scale(0.01377,-0.01377)"/></g>
<line x1="848.30" y1="776.69" x2="854.30" y2="776.69" stroke="#000" stroke-width="2" />
<line x1="843.30" y1="820.38" x2="854.30" y2="820.38" stroke="#000" stroke-width="2" />
<g transform="translate(866.50,828.68) scale(1,1.07)"><text font-size="28.2" text-anchor="start"> 00</text><path d="M763,0H583V1102Q518,1043 412,983Q306,924 222,894V1061Q372,1129 484,1226Q596,1323 643,1414H763Z" transform="translate(0.00,0) scale(0.01377,-0.01377)"/></g>
<line x1="848.30" y1="864.07" x2="854.30" y2="864.07" stroke="#000" stroke-width="2" />
<line x1="843.30" y1="907.76" x2="854.30" y2="907.76" stroke="#000" stroke-width="2" />
<text transform="translate(866.50,916.06) scale(1,1.07)" font-size="28.2" text-anchor="start">80</text>
<line x1="848.30" y1="951.45" x2="854.30" y2="951.45" stroke="#000" stroke-width="2" />
<line x1="843.30" y1="995.14" x2="854.30" y2="995.14" stroke="#000" stroke-width="2" />
<text transform="translate(866.50,1003.44) scale(1,1.07)" font-size="28.2" text-anchor="start">60</text>
<line x1="848.30" y1="1038.83" x2="854.30" y2="1038.83" stroke="#000" stroke-width="2" />
<line x1="843.30" y1="1082.52" x2="854.30" y2="1082.52" stroke="#000" stroke-width="2" />
<text transform="translate(866.50,1090.82) scale(1,1.07)" font-size="28.2" text-anchor="start">40</text>
<line x1="848.30" y1="1126.21" x2="854.30" y2="1126.21" stroke="#000" stroke-width="2" />
<line x1="843.30" y1="1169.90" x2="854.30" y2="1169.90" stroke="#000" stroke-width="2" />
<text transform="translate(866.50,1178.20) scale(1,1.07)" font-size="28.2" text-anchor="start">20</text>
<line x1="848.30" y1="1213.59" x2="854.30" y2="1213.59" stroke="#000" stroke-width="2" />
<line x1="843.30" y1="1257.28" x2="854.30" y2="1257.28" stroke="#000" stroke-width="2" />
<text transform="translate(866.50,1265.58) scale(1,1.07)" font-size="28.2" text-anchor="start">0</text>
<line x1="141.00" y1="1257.30" x2="141.00" y2="1268.30" stroke="#000" stroke-width="2" />
<text transform="translate(141.00,1300.00) scale(1,1.07)" font-size="28.2" text-anchor="middle">0</text>
<line x1="212.33" y1="1257.30" x2="212.33" y2="1263.30" stroke="#000" stroke-width="2" />
<line x1="283.66" y1="1257.30" x2="283.66" y2="1268.30" stroke="#000" stroke-width="2" />
<g transform="translate(283.66,1300.00) scale(1,1.07)"><text font-size="28.2" text-anchor="middle"> 0</text><path d="M763,0H583V1102Q518,1043 412,983Q306,924 222,894V1061Q372,1129 484,1226Q596,1323 643,1414H763Z" transform="translate(-15.68,0) scale(0.01377,-0.01377)"/></g>
<line x1="354.99" y1="1257.30" x2="354.99" y2="1263.30" stroke="#000" stroke-width="2" />
<line x1="426.32" y1="1257.30" x2="426.32" y2="1268.30" stroke="#000" stroke-width="2" />
<text transform="translate(426.32,1300.00) scale(1,1.07)" font-size="28.2" text-anchor="middle">20</text>
<line x1="497.65" y1="1257.30" x2="497.65" y2="1263.30" stroke="#000" stroke-width="2" />
<line x1="568.98" y1="1257.30" x2="568.98" y2="1268.30" stroke="#000" stroke-width="2" />
<text transform="translate(568.98,1300.00) scale(1,1.07)" font-size="28.2" text-anchor="middle">30</text>
<line x1="640.31" y1="1257.30" x2="640.31" y2="1263.30" stroke="#000" stroke-width="2" />
<line x1="711.64" y1="1257.30" x2="711.64" y2="1268.30" stroke="#000" stroke-width="2" />
<text transform="translate(711.64,1300.00) scale(1,1.07)" font-size="28.2" text-anchor="middle">40</text>
<line x1="782.97" y1="1257.30" x2="782.97" y2="1263.30" stroke="#000" stroke-width="2" />
<line x1="854.30" y1="1257.30" x2="854.30" y2="1268.30" stroke="#000" stroke-width="2" />
<text transform="translate(854.30,1300.00) scale(1,1.07)" font-size="28.2" text-anchor="middle">50</text>
<text transform="translate(493.10,1353.50) scale(1,1.0)" font-size="38.2" text-anchor="middle">Number cycle</text>
<text transform="translate(40.5,987) rotate(-90) scale(1,1.03)" font-size="38.6" text-anchor="middle">Capacity (mAh/g)</text>
<text transform="translate(935.5,976.2) rotate(90) scale(1,1.03)" font-size="37.5" text-anchor="middle">Coumbic retention (%)</text>
<text transform="translate(152.50,766.00) scale(1,1.0)" font-size="43" text-anchor="start">(B)</text>
<text transform="translate(298.50,810.80) scale(1,1.0)" font-size="28" text-anchor="middle">(b)</text>
<text transform="translate(348.40,798.90) scale(1,1.0)" font-size="28" text-anchor="middle">(a)</text>
<text transform="translate(262.80,872.50) scale(1,1.0)" font-size="28" text-anchor="middle">(c)</text>
<text transform="translate(357.00,867.20) scale(1,1.0)" font-size="28" text-anchor="middle">(d)</text>
<line x1="297.80" y1="810.40" x2="305.38" y2="823.18" stroke="#000" stroke-width="2" />
<path d="M311.50,833.50L300.70,823.63L304.87,822.32L308.01,819.29Z" fill="#000"/>
<line x1="332.50" y1="809.00" x2="322.32" y2="822.51" stroke="#000" stroke-width="2" />
<path d="M315.10,832.10L320.13,818.36L322.92,821.72L326.92,823.47Z" fill="#000"/>
<line x1="261.70" y1="855.20" x2="276.55" y2="844.23" stroke="#000" stroke-width="2" />
<path d="M286.20,837.10L277.47,848.84L275.74,844.82L272.41,842.00Z" fill="#000"/>
<line x1="354.10" y1="851.60" x2="336.71" y2="837.47" stroke="#000" stroke-width="2" />
<path d="M327.40,829.90L340.94,835.43L337.49,838.10L335.58,842.03Z" fill="#000"/>
<text transform="translate(197.00,919.60) scale(1,1.0)" font-size="28" text-anchor="middle">(b)</text>
<text transform="translate(281.20,919.60) scale(1,1.0)" font-size="28" text-anchor="middle">(a)</text>
<text transform="translate(277.80,1046.70) scale(1,1.0)" font-size="28" text-anchor="middle">(d)</text>
<text transform="translate(353.60,1037.50) scale(1,1.0)" font-size="28" text-anchor="middle">(c)</text>
<line x1="199.40" y1="933.80" x2="212.70" y2="961.00" stroke="#000" stroke-width="2" />
<line x1="267.10" y1="922.20" x2="256.40" y2="935.85" stroke="#000" stroke-width="2" />
<path d="M249.00,945.30L254.29,931.66L257.02,935.07L260.98,936.90Z" fill="#000"/>
<line x1="281.20" y1="1027.00" x2="279.91" y2="988.69" stroke="#000" stroke-width="2" />
<path d="M279.50,976.70L284.22,990.55L279.94,989.69L275.73,990.84Z" fill="#000"/>
<line x1="341.20" y1="1013.10" x2="321.24" y2="1004.12" stroke="#000" stroke-width="2" />
<path d="M310.30,999.20L324.81,1001.07L322.16,1004.53L321.32,1008.82Z" fill="#000"/>
<path d="M225,996.5 L225,1052.6 M225,1038.6 L147,1038.6 M168,1032.3 L146.5,1038.6 L168,1044.9" fill="none" stroke="#000" stroke-width="3.4" stroke-linecap="round" stroke-linejoin="round"/>
<path d="M782.7,848.2 L782.7,902.7 L846.3,902.7 M824.1,897.4 L846.3,902.7 L824.1,908" fill="none" stroke="#000" stroke-width="3.4" stroke-linecap="round" stroke-linejoin="round"/>
</svg></body></html>
